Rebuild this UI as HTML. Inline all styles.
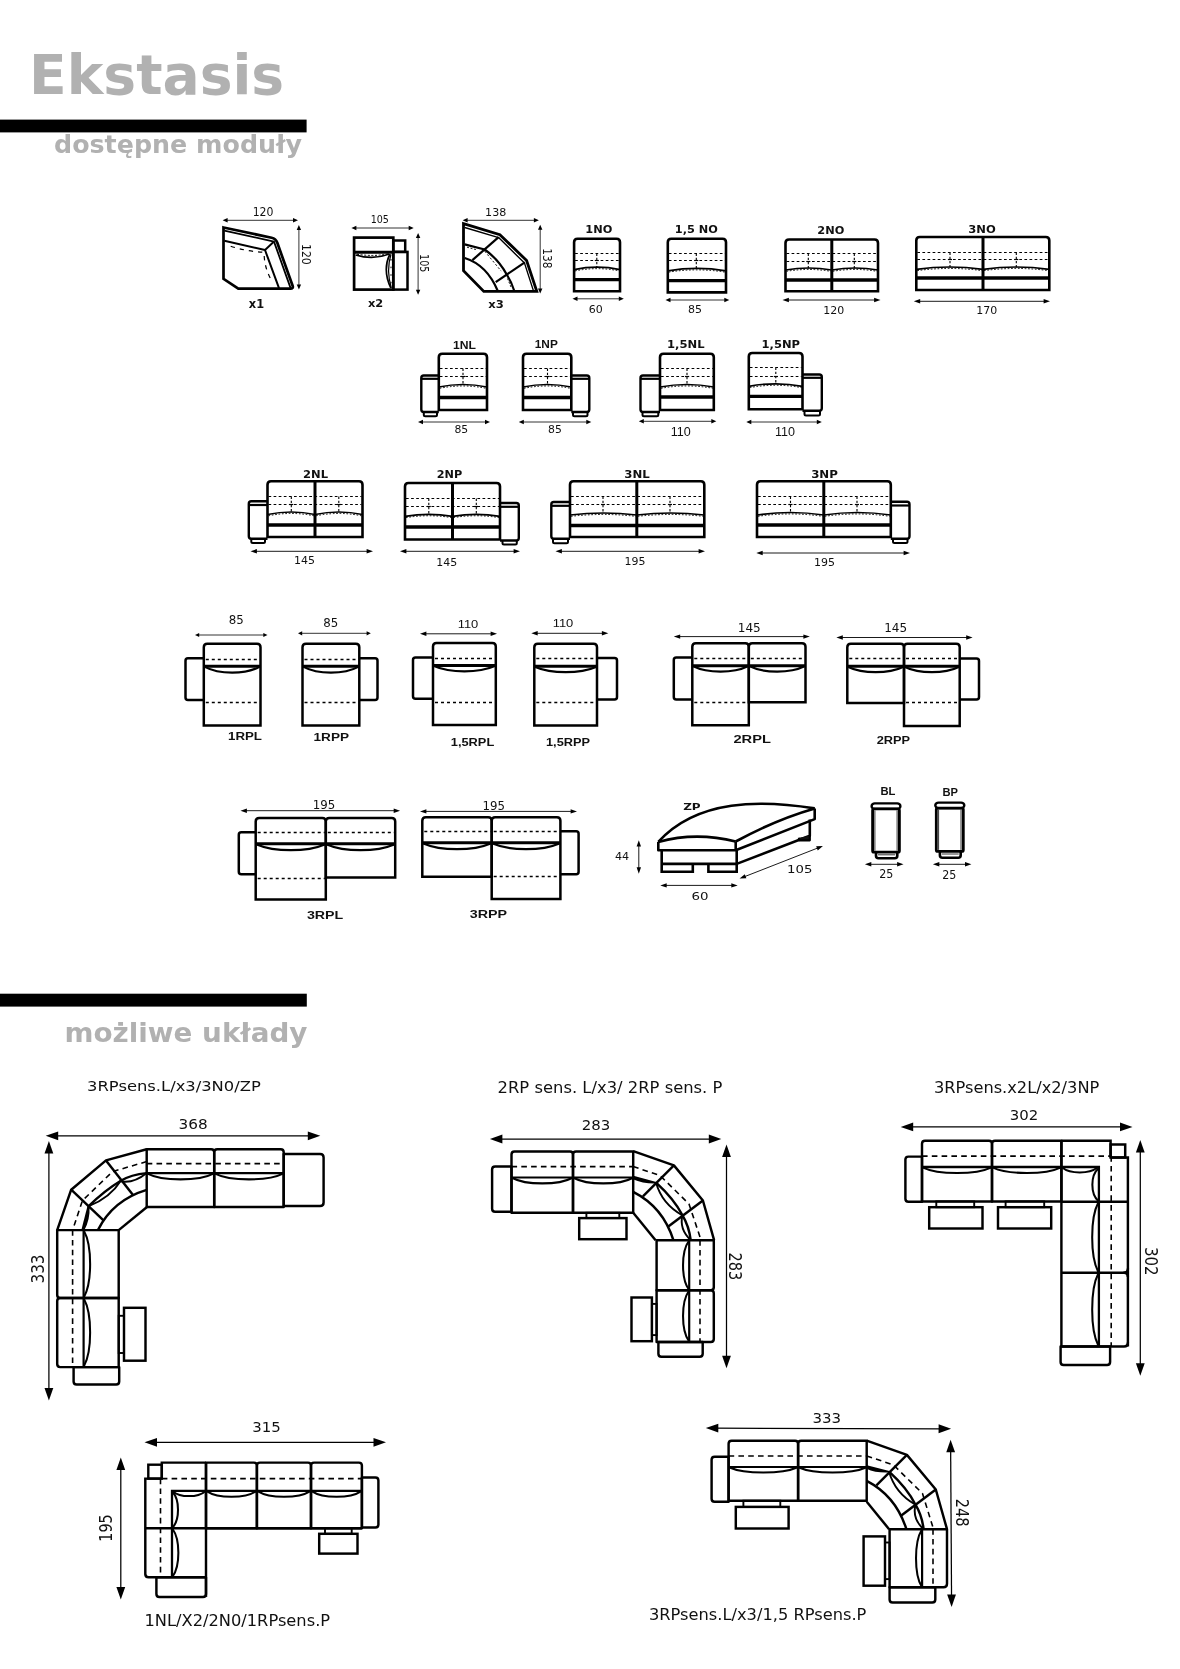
<!DOCTYPE html>
<html lang="pl">
<head>
<meta charset="utf-8">
<title>Ekstasis - dostępne moduły</title>
<style>
html,body{margin:0;padding:0;background:#fff;}
body{width:1180px;height:1669px;overflow:hidden;font-family:'DejaVu Sans','Liberation Sans',sans-serif;}
svg{display:block;will-change:transform;}
</style>
</head>
<body>
<svg width="1180" height="1669" viewBox="0 0 1180 1669">
<rect x="0" y="0" width="1180" height="1669" fill="#ffffff"/>
<text x="29.1" y="93.9" font-family="'DejaVu Sans','Liberation Sans',sans-serif" font-size="55.1" font-weight="bold" text-anchor="start" fill="#b1b1b1" textLength="255" lengthAdjust="spacingAndGlyphs">Ekstasis</text>
<rect x="0" y="119.6" width="306.6" height="12.8" fill="#000"/>
<text x="54" y="152.9" font-family="'DejaVu Sans','Liberation Sans',sans-serif" font-size="24.4" font-weight="bold" text-anchor="start" fill="#b1b1b1" textLength="248" lengthAdjust="spacingAndGlyphs">dostępne moduły</text>
<rect x="0" y="993.7" width="306.8" height="12.9" fill="#000"/>
<text x="64.5" y="1042.3" font-family="'DejaVu Sans','Liberation Sans',sans-serif" font-size="26" font-weight="bold" text-anchor="start" fill="#b1b1b1" textLength="243" lengthAdjust="spacingAndGlyphs">możliwe układy</text>
<path d="M223.5 227.5 L271.6 237.75 Q275.9 238.7 277.3 242.8 L292.6 285.8 Q293.6 288.6 290.4 288.6 L238.3 288.6 L223.5 278.8 Z" fill="none" stroke="#000" stroke-width="2.7" stroke-linejoin="miter"/>
<path d="M224.3 230.6 L274 241.6 L290.6 288.1" fill="none" stroke="#000" stroke-width="1.8" stroke-linejoin="round"/>
<path d="M224.3 240.7 L265 250 L279 288.1" fill="none" stroke="#000" stroke-width="2" stroke-linejoin="round"/>
<line x1="265" y1="250" x2="273.5" y2="242" stroke="#000" stroke-width="1.9"/>
<path d="M230.7 246.2 Q247 251.5 262.5 252.1" fill="none" stroke="#000" stroke-width="1.2" stroke-linejoin="round" stroke-dasharray="4.3 5"/>
<path d="M264.2 256 Q265 270 272.6 282.2" fill="none" stroke="#000" stroke-width="1.2" stroke-linejoin="round" stroke-dasharray="4.3 5"/>
<line x1="225.6" y1="220.3" x2="295" y2="220.3" stroke="#000" stroke-width="0.8"/>
<polygon points="222.6,220.3 227.6,222.5 227.6,218.1" fill="#000"/>
<polygon points="298,220.3 293,222.5 293,218.1" fill="#000"/>
<text x="263.1" y="215.7" font-family="'DejaVu Sans','Liberation Sans',sans-serif" font-size="12.21" text-anchor="middle" fill="#111" textLength="20.8" lengthAdjust="spacingAndGlyphs">120</text>
<line x1="298.9" y1="228" x2="298.9" y2="286.4" stroke="#000" stroke-width="0.8"/>
<polygon points="298.9,225 296.7,230 301.1,230" fill="#000"/>
<polygon points="298.9,289.4 296.7,284.4 301.1,284.4" fill="#000"/>
<text x="302.3" y="254.4" font-family="'DejaVu Sans','Liberation Sans',sans-serif" font-size="12.21" text-anchor="middle" fill="#111" transform="rotate(90 302.3 254.4)" textLength="20.8" lengthAdjust="spacingAndGlyphs">120</text>
<text x="256.5" y="307.6" font-family="'DejaVu Sans','Liberation Sans',sans-serif" font-size="11.8" font-weight="bold" text-anchor="middle" fill="#111" textLength="15.3" lengthAdjust="spacingAndGlyphs">x1</text>
<rect x="354.1" y="237.6" width="39.2" height="52" rx="0" fill="none" stroke="#000" stroke-width="2.7"/>
<rect x="393.3" y="240.5" width="11.9" height="11.4" rx="0" fill="none" stroke="#000" stroke-width="2.5"/>
<rect x="393.3" y="251.9" width="14.2" height="37.7" rx="0" fill="none" stroke="#000" stroke-width="2.5"/>
<line x1="354.1" y1="252.2" x2="394" y2="252.2" stroke="#000" stroke-width="3"/>
<path d="M355.7 255 Q373 260.4 389.2 254" fill="none" stroke="#000" stroke-width="1.7" stroke-linejoin="round"/>
<path d="M357 254.2 Q373 256.8 388 253.9" fill="none" stroke="#000" stroke-width="1" stroke-linejoin="round" stroke-dasharray="2 1.6"/>
<path d="M389.8 254.2 Q382.3 270 390.8 288" fill="none" stroke="#000" stroke-width="1.7" stroke-linejoin="round"/>
<path d="M391 254.2 Q386 270 391.3 288" fill="none" stroke="#000" stroke-width="1.2" stroke-linejoin="round"/>
<line x1="391" y1="259" x2="391" y2="284" stroke="#000" stroke-width="1" stroke-dasharray="1.6 6"/>
<line x1="354.4" y1="228" x2="410.7" y2="228" stroke="#000" stroke-width="0.8"/>
<polygon points="351.4,228 356.4,230.2 356.4,225.8" fill="#000"/>
<polygon points="413.7,228 408.7,230.2 408.7,225.8" fill="#000"/>
<text x="379.8" y="222.7" font-family="'DejaVu Sans','Liberation Sans',sans-serif" font-size="10.01" text-anchor="middle" fill="#111" textLength="18.2" lengthAdjust="spacingAndGlyphs">105</text>
<line x1="418.1" y1="235.9" x2="418.1" y2="291.7" stroke="#000" stroke-width="0.8"/>
<polygon points="418.1,232.9 415.9,237.9 420.3,237.9" fill="#000"/>
<polygon points="418.1,294.7 415.9,289.7 420.3,289.7" fill="#000"/>
<text x="420.1" y="263.2" font-family="'DejaVu Sans','Liberation Sans',sans-serif" font-size="11.66" text-anchor="middle" fill="#111" transform="rotate(90 420.1 263.2)" textLength="18.2" lengthAdjust="spacingAndGlyphs">105</text>
<text x="375.6" y="307" font-family="'DejaVu Sans','Liberation Sans',sans-serif" font-size="10.97" font-weight="bold" text-anchor="middle" fill="#111" textLength="15.3" lengthAdjust="spacingAndGlyphs">x2</text>
<path d="M463.5 223.6 L499.9 234.7 L526.6 260.5 L536.8 291.4 L483.8 291.4 L463.5 270.7 Z" fill="none" stroke="#000" stroke-width="2.8" stroke-linejoin="miter"/>
<path d="M464.7 227.5 L498.6 237.6 L524.5 263.1 L533.4 290.6" fill="none" stroke="#000" stroke-width="1.4" stroke-linejoin="round"/>
<line x1="498.6" y1="237.2" x2="472.4" y2="260.1" stroke="#000" stroke-width="2.2"/>
<line x1="524.8" y1="262.4" x2="495.7" y2="282.1" stroke="#000" stroke-width="2.2"/>
<path d="M464.7 244.4 L484.7 249.5 Q499 260 506.7 274.5 Q511.5 282 514.3 291" fill="none" stroke="#000" stroke-width="2.2" stroke-linejoin="round"/>
<path d="M464.7 258 Q487 265 497.8 291" fill="none" stroke="#000" stroke-width="2.2" stroke-linejoin="round"/>
<line x1="484.7" y1="251.2" x2="501.2" y2="271.1" stroke="#000" stroke-width="0.9" stroke-dasharray="2.2 2"/>
<line x1="467" y1="247.2" x2="476" y2="249.6" stroke="#000" stroke-width="0.9" stroke-dasharray="2 1.6"/>
<line x1="507.5" y1="278.5" x2="511" y2="287" stroke="#000" stroke-width="0.9" stroke-dasharray="2 1.6"/>
<line x1="465.6" y1="220.3" x2="535.9" y2="220.3" stroke="#000" stroke-width="0.8"/>
<polygon points="462.6,220.3 467.6,222.5 467.6,218.1" fill="#000"/>
<polygon points="538.9,220.3 533.9,222.5 533.9,218.1" fill="#000"/>
<text x="495.7" y="216" font-family="'DejaVu Sans','Liberation Sans',sans-serif" font-size="11.11" text-anchor="middle" fill="#111" textLength="21.2" lengthAdjust="spacingAndGlyphs">138</text>
<line x1="540.2" y1="227.7" x2="540.2" y2="290.6" stroke="#000" stroke-width="0.8"/>
<polygon points="540.2,224.7 538,229.7 542.4,229.7" fill="#000"/>
<polygon points="540.2,293.6 538,288.6 542.4,288.6" fill="#000"/>
<text x="543.1" y="258.4" font-family="'DejaVu Sans','Liberation Sans',sans-serif" font-size="12.76" text-anchor="middle" fill="#111" transform="rotate(90 543.1 258.4)" textLength="20.3" lengthAdjust="spacingAndGlyphs">138</text>
<text x="496.1" y="308" font-family="'DejaVu Sans','Liberation Sans',sans-serif" font-size="10.7" font-weight="bold" text-anchor="middle" fill="#111" textLength="15.5" lengthAdjust="spacingAndGlyphs">x3</text>
<path d="M574.1 291.2 L574.1 242.3 Q574.1 238.8 577.6 238.8 L616.5 238.8 Q620 238.8 620 242.3 L620 291.2 Z" fill="none" stroke="#000" stroke-width="2.6" stroke-linejoin="miter"/>
<line x1="575.1" y1="253.5" x2="619" y2="253.5" stroke="#000" stroke-width="1.2" stroke-dasharray="2.7 2.4"/>
<line x1="575.1" y1="260.5" x2="619" y2="260.5" stroke="#000" stroke-width="1.2" stroke-dasharray="2.7 2.4"/>
<path d="M574.1 269.6 Q597.05 264.8 620 269.6" fill="none" stroke="#000" stroke-width="1.7" stroke-linejoin="round"/>
<path d="M575.1 270.9 Q597.05 266.4 619 270.9" fill="none" stroke="#000" stroke-width="1" stroke-linejoin="round" stroke-dasharray="1.6 1.8"/>
<line x1="596.8" y1="253.5" x2="596.8" y2="267.7" stroke="#000" stroke-width="1.1" stroke-dasharray="2.4 1.8"/>
<line x1="594.8" y1="260.5" x2="598.8" y2="260.5" stroke="#000" stroke-width="1.2"/>
<line x1="574.1" y1="279.6" x2="620" y2="279.6" stroke="#000" stroke-width="3.3"/>
<text x="598.8" y="233" font-family="'DejaVu Sans','Liberation Sans',sans-serif" font-size="10.97" font-weight="bold" text-anchor="middle" fill="#111" textLength="27" lengthAdjust="spacingAndGlyphs">1NO</text>
<line x1="575.5" y1="298.8" x2="620.8" y2="298.8" stroke="#000" stroke-width="0.8"/>
<polygon points="572.5,298.8 577.5,301 577.5,296.6" fill="#000"/>
<polygon points="623.8,298.8 618.8,301 618.8,296.6" fill="#000"/>
<text x="595.8" y="313" font-family="'DejaVu Sans','Liberation Sans',sans-serif" font-size="10.97" text-anchor="middle" fill="#111">60</text>
<path d="M667.8 292.4 L667.8 242.3 Q667.8 238.8 671.3 238.8 L722.5 238.8 Q726 238.8 726 242.3 L726 292.4 Z" fill="none" stroke="#000" stroke-width="2.6" stroke-linejoin="miter"/>
<line x1="668.8" y1="253.5" x2="725" y2="253.5" stroke="#000" stroke-width="1.2" stroke-dasharray="2.7 2.4"/>
<line x1="668.8" y1="260.5" x2="725" y2="260.5" stroke="#000" stroke-width="1.2" stroke-dasharray="2.7 2.4"/>
<path d="M667.8 270.8 Q696.9 266 726 270.8" fill="none" stroke="#000" stroke-width="1.7" stroke-linejoin="round"/>
<path d="M668.8 272.1 Q696.9 267.6 725 272.1" fill="none" stroke="#000" stroke-width="1" stroke-linejoin="round" stroke-dasharray="1.6 1.8"/>
<line x1="696.3" y1="253.5" x2="696.3" y2="268.9" stroke="#000" stroke-width="1.1" stroke-dasharray="2.4 1.8"/>
<line x1="694.3" y1="260.5" x2="698.3" y2="260.5" stroke="#000" stroke-width="1.2"/>
<line x1="667.8" y1="280.6" x2="726" y2="280.6" stroke="#000" stroke-width="3.3"/>
<text x="696.3" y="233" font-family="'DejaVu Sans','Liberation Sans',sans-serif" font-size="10.97" font-weight="bold" text-anchor="middle" fill="#111" textLength="43" lengthAdjust="spacingAndGlyphs">1,5 NO</text>
<line x1="668.5" y1="300" x2="726.3" y2="300" stroke="#000" stroke-width="0.8"/>
<polygon points="665.5,300 670.5,302.2 670.5,297.8" fill="#000"/>
<polygon points="729.3,300 724.3,302.2 724.3,297.8" fill="#000"/>
<text x="695" y="312.5" font-family="'DejaVu Sans','Liberation Sans',sans-serif" font-size="10.97" text-anchor="middle" fill="#111">85</text>
<path d="M785.5 291.3 L785.5 243 Q785.5 239.5 789 239.5 L874.5 239.5 Q878 239.5 878 243 L878 291.3 Z" fill="none" stroke="#000" stroke-width="2.6" stroke-linejoin="miter"/>
<line x1="831.8" y1="239.5" x2="831.8" y2="291.3" stroke="#000" stroke-width="3"/>
<line x1="786.5" y1="253.5" x2="877" y2="253.5" stroke="#000" stroke-width="1.2" stroke-dasharray="2.7 2.4"/>
<line x1="786.5" y1="261.5" x2="877" y2="261.5" stroke="#000" stroke-width="1.2" stroke-dasharray="2.7 2.4"/>
<path d="M785.5 270 Q808.65 266 831.8 270" fill="none" stroke="#000" stroke-width="1.7" stroke-linejoin="round"/>
<path d="M786.5 271.3 Q808.65 267.6 830.8 271.3" fill="none" stroke="#000" stroke-width="1" stroke-linejoin="round" stroke-dasharray="1.6 1.8"/>
<path d="M831.8 270 Q854.9 266 878 270" fill="none" stroke="#000" stroke-width="1.7" stroke-linejoin="round"/>
<path d="M832.8 271.3 Q854.9 267.6 877 271.3" fill="none" stroke="#000" stroke-width="1" stroke-linejoin="round" stroke-dasharray="1.6 1.8"/>
<line x1="808.3" y1="253.5" x2="808.3" y2="268.5" stroke="#000" stroke-width="1.1" stroke-dasharray="2.4 1.8"/>
<line x1="806.3" y1="261.5" x2="810.3" y2="261.5" stroke="#000" stroke-width="1.2"/>
<line x1="854.3" y1="253.5" x2="854.3" y2="268.5" stroke="#000" stroke-width="1.1" stroke-dasharray="2.4 1.8"/>
<line x1="852.3" y1="261.5" x2="856.3" y2="261.5" stroke="#000" stroke-width="1.2"/>
<line x1="785.5" y1="280" x2="878" y2="280" stroke="#000" stroke-width="3.3"/>
<text x="830.8" y="234.3" font-family="'DejaVu Sans','Liberation Sans',sans-serif" font-size="10.97" font-weight="bold" text-anchor="middle" fill="#111" textLength="27" lengthAdjust="spacingAndGlyphs">2NO</text>
<line x1="786.34" y1="300" x2="876.66" y2="300" stroke="#000" stroke-width="0.9"/>
<polygon points="782.5,300 788.9,302.2 788.9,297.8" fill="#000"/>
<polygon points="880.5,300 874.1,302.2 874.1,297.8" fill="#000"/>
<text x="833.8" y="313.8" font-family="'DejaVu Sans','Liberation Sans',sans-serif" font-size="10.97" text-anchor="middle" fill="#111">120</text>
<path d="M916.3 290 L916.3 240.5 Q916.3 237 919.8 237 L1045.8 237 Q1049.3 237 1049.3 240.5 L1049.3 290 Z" fill="none" stroke="#000" stroke-width="2.6" stroke-linejoin="miter"/>
<line x1="983" y1="237" x2="983" y2="290" stroke="#000" stroke-width="3"/>
<line x1="917.3" y1="252.5" x2="1048.3" y2="252.5" stroke="#000" stroke-width="1.2" stroke-dasharray="2.7 2.4"/>
<line x1="917.3" y1="259.5" x2="1048.3" y2="259.5" stroke="#000" stroke-width="1.2" stroke-dasharray="2.7 2.4"/>
<path d="M916.3 269.3 Q949.65 264.7 983 269.3" fill="none" stroke="#000" stroke-width="1.7" stroke-linejoin="round"/>
<path d="M917.3 270.6 Q949.65 266.3 982 270.6" fill="none" stroke="#000" stroke-width="1" stroke-linejoin="round" stroke-dasharray="1.6 1.8"/>
<path d="M983 269.3 Q1016.15 264.7 1049.3 269.3" fill="none" stroke="#000" stroke-width="1.7" stroke-linejoin="round"/>
<path d="M984 270.6 Q1016.15 266.3 1048.3 270.6" fill="none" stroke="#000" stroke-width="1" stroke-linejoin="round" stroke-dasharray="1.6 1.8"/>
<line x1="950" y1="252.5" x2="950" y2="267.5" stroke="#000" stroke-width="1.1" stroke-dasharray="2.4 1.8"/>
<line x1="948" y1="259.5" x2="952" y2="259.5" stroke="#000" stroke-width="1.2"/>
<line x1="1016.3" y1="252.5" x2="1016.3" y2="267.5" stroke="#000" stroke-width="1.1" stroke-dasharray="2.4 1.8"/>
<line x1="1014.3" y1="259.5" x2="1018.3" y2="259.5" stroke="#000" stroke-width="1.2"/>
<line x1="916.3" y1="278" x2="1049.3" y2="278" stroke="#000" stroke-width="3.3"/>
<text x="982" y="232.5" font-family="'DejaVu Sans','Liberation Sans',sans-serif" font-size="10.97" font-weight="bold" text-anchor="middle" fill="#111" textLength="27.5" lengthAdjust="spacingAndGlyphs">3NO</text>
<line x1="917.64" y1="301.3" x2="1046.16" y2="301.3" stroke="#000" stroke-width="0.9"/>
<polygon points="913.8,301.3 920.2,303.5 920.2,299.1" fill="#000"/>
<polygon points="1050,301.3 1043.6,303.5 1043.6,299.1" fill="#000"/>
<text x="986.8" y="313.8" font-family="'DejaVu Sans','Liberation Sans',sans-serif" font-size="10.97" text-anchor="middle" fill="#111">170</text>
<path d="M438.8 410 L438.8 357.3 Q438.8 353.8 442.3 353.8 L483.5 353.8 Q487 353.8 487 357.3 L487 410 Z" fill="none" stroke="#000" stroke-width="2.6" stroke-linejoin="miter"/>
<line x1="439.8" y1="368.5" x2="486" y2="368.5" stroke="#000" stroke-width="1.2" stroke-dasharray="2.7 2.4"/>
<line x1="439.8" y1="376.5" x2="486" y2="376.5" stroke="#000" stroke-width="1.2" stroke-dasharray="2.7 2.4"/>
<path d="M438.8 387 Q462.9 382 487 387" fill="none" stroke="#000" stroke-width="1.7" stroke-linejoin="round"/>
<path d="M439.8 388.3 Q462.9 383.6 486 388.3" fill="none" stroke="#000" stroke-width="1" stroke-linejoin="round" stroke-dasharray="1.6 1.8"/>
<line x1="463" y1="368.5" x2="463" y2="385" stroke="#000" stroke-width="1.1" stroke-dasharray="2.4 1.8"/>
<line x1="461" y1="376.5" x2="465" y2="376.5" stroke="#000" stroke-width="1.2"/>
<line x1="438.8" y1="397.5" x2="487" y2="397.5" stroke="#000" stroke-width="3.3"/>
<path d="M438.8 375.5 L423.8 375.5 Q421.3 375.5 421.3 378 L421.3 409.5 Q421.3 412 423.8 412 L438.8 412" fill="none" stroke="#000" stroke-width="2.4" stroke-linejoin="round"/>
<line x1="421.3" y1="378.8" x2="438.8" y2="378.8" stroke="#000" stroke-width="2.2"/>
<path d="M423.8 412 L423.8 414.8 Q423.8 416.3 425.3 416.3 L435.5 416.3 Q437 416.3 437 414.8 L437 412" fill="none" stroke="#000" stroke-width="2" stroke-linejoin="round"/>
<text x="464.5" y="348.8" font-family="'Liberation Sans','DejaVu Sans',sans-serif" font-size="10.75" font-weight="bold" text-anchor="middle" fill="#111" textLength="23" lengthAdjust="spacingAndGlyphs">1NL</text>
<line x1="421" y1="422" x2="487" y2="422" stroke="#000" stroke-width="0.8"/>
<polygon points="418,422 423,424.2 423,419.8" fill="#000"/>
<polygon points="490,422 485,424.2 485,419.8" fill="#000"/>
<text x="461.3" y="432.5" font-family="'DejaVu Sans','Liberation Sans',sans-serif" font-size="11.25" text-anchor="middle" fill="#111" textLength="13.8" lengthAdjust="spacingAndGlyphs">85</text>
<path d="M523 410 L523 357.3 Q523 353.8 526.5 353.8 L567.8 353.8 Q571.3 353.8 571.3 357.3 L571.3 410 Z" fill="none" stroke="#000" stroke-width="2.6" stroke-linejoin="miter"/>
<line x1="524" y1="368.5" x2="570.3" y2="368.5" stroke="#000" stroke-width="1.2" stroke-dasharray="2.7 2.4"/>
<line x1="524" y1="376.5" x2="570.3" y2="376.5" stroke="#000" stroke-width="1.2" stroke-dasharray="2.7 2.4"/>
<path d="M523 387 Q547.15 382 571.3 387" fill="none" stroke="#000" stroke-width="1.7" stroke-linejoin="round"/>
<path d="M524 388.3 Q547.15 383.6 570.3 388.3" fill="none" stroke="#000" stroke-width="1" stroke-linejoin="round" stroke-dasharray="1.6 1.8"/>
<line x1="547.5" y1="368.5" x2="547.5" y2="385" stroke="#000" stroke-width="1.1" stroke-dasharray="2.4 1.8"/>
<line x1="545.5" y1="376.5" x2="549.5" y2="376.5" stroke="#000" stroke-width="1.2"/>
<line x1="523" y1="397.5" x2="571.3" y2="397.5" stroke="#000" stroke-width="3.3"/>
<path d="M571.3 375.5 L586.8 375.5 Q589.3 375.5 589.3 378 L589.3 409.5 Q589.3 412 586.8 412 L571.3 412" fill="none" stroke="#000" stroke-width="2.4" stroke-linejoin="round"/>
<line x1="571.3" y1="378.8" x2="589.3" y2="378.8" stroke="#000" stroke-width="2.2"/>
<path d="M573 412 L573 414.8 Q573 416.3 574.5 416.3 L586 416.3 Q587.5 416.3 587.5 414.8 L587.5 412" fill="none" stroke="#000" stroke-width="2" stroke-linejoin="round"/>
<text x="546.3" y="348" font-family="'Liberation Sans','DejaVu Sans',sans-serif" font-size="10.75" font-weight="bold" text-anchor="middle" fill="#111" textLength="23" lengthAdjust="spacingAndGlyphs">1NP</text>
<line x1="521.8" y1="422" x2="588.3" y2="422" stroke="#000" stroke-width="0.8"/>
<polygon points="518.8,422 523.8,424.2 523.8,419.8" fill="#000"/>
<polygon points="591.3,422 586.3,424.2 586.3,419.8" fill="#000"/>
<text x="555" y="433.3" font-family="'DejaVu Sans','Liberation Sans',sans-serif" font-size="11.25" text-anchor="middle" fill="#111" textLength="13.8" lengthAdjust="spacingAndGlyphs">85</text>
<path d="M660 410 L660 357.3 Q660 353.8 663.5 353.8 L710.3 353.8 Q713.8 353.8 713.8 357.3 L713.8 410 Z" fill="none" stroke="#000" stroke-width="2.6" stroke-linejoin="miter"/>
<line x1="661" y1="368.5" x2="712.8" y2="368.5" stroke="#000" stroke-width="1.2" stroke-dasharray="2.7 2.4"/>
<line x1="661" y1="376.5" x2="712.8" y2="376.5" stroke="#000" stroke-width="1.2" stroke-dasharray="2.7 2.4"/>
<path d="M660 387 Q686.9 382 713.8 387" fill="none" stroke="#000" stroke-width="1.7" stroke-linejoin="round"/>
<path d="M661 388.3 Q686.9 383.6 712.8 388.3" fill="none" stroke="#000" stroke-width="1" stroke-linejoin="round" stroke-dasharray="1.6 1.8"/>
<line x1="687" y1="368.5" x2="687" y2="385" stroke="#000" stroke-width="1.1" stroke-dasharray="2.4 1.8"/>
<line x1="685" y1="376.5" x2="689" y2="376.5" stroke="#000" stroke-width="1.2"/>
<line x1="660" y1="397" x2="713.8" y2="397" stroke="#000" stroke-width="3.3"/>
<path d="M660 375.5 L643 375.5 Q640.5 375.5 640.5 378 L640.5 409.5 Q640.5 412 643 412 L660 412" fill="none" stroke="#000" stroke-width="2.4" stroke-linejoin="round"/>
<line x1="640.5" y1="378.8" x2="660" y2="378.8" stroke="#000" stroke-width="2.2"/>
<path d="M642.5 412 L642.5 414.8 Q642.5 416.3 644 416.3 L656.8 416.3 Q658.3 416.3 658.3 414.8 L658.3 412" fill="none" stroke="#000" stroke-width="2" stroke-linejoin="round"/>
<text x="685.8" y="347.5" font-family="'DejaVu Sans','Liberation Sans',sans-serif" font-size="10.29" font-weight="bold" text-anchor="middle" fill="#111" textLength="37.5" lengthAdjust="spacingAndGlyphs">1,5NL</text>
<line x1="641.8" y1="421.3" x2="713.3" y2="421.3" stroke="#000" stroke-width="0.8"/>
<polygon points="638.8,421.3 643.8,423.5 643.8,419.1" fill="#000"/>
<polygon points="716.3,421.3 711.3,423.5 711.3,419.1" fill="#000"/>
<text x="680.8" y="436.3" font-family="'Liberation Sans','DejaVu Sans',sans-serif" font-size="12.01" text-anchor="middle" fill="#111" textLength="20" lengthAdjust="spacingAndGlyphs">110</text>
<path d="M748.8 409.3 L748.8 356.5 Q748.8 353 752.3 353 L799 353 Q802.5 353 802.5 356.5 L802.5 409.3 Z" fill="none" stroke="#000" stroke-width="2.6" stroke-linejoin="miter"/>
<line x1="749.8" y1="367.5" x2="801.5" y2="367.5" stroke="#000" stroke-width="1.2" stroke-dasharray="2.7 2.4"/>
<line x1="749.8" y1="376.5" x2="801.5" y2="376.5" stroke="#000" stroke-width="1.2" stroke-dasharray="2.7 2.4"/>
<path d="M748.8 386.3 Q775.65 381.3 802.5 386.3" fill="none" stroke="#000" stroke-width="1.7" stroke-linejoin="round"/>
<path d="M749.8 387.6 Q775.65 382.9 801.5 387.6" fill="none" stroke="#000" stroke-width="1" stroke-linejoin="round" stroke-dasharray="1.6 1.8"/>
<line x1="775.8" y1="367.5" x2="775.8" y2="384.3" stroke="#000" stroke-width="1.1" stroke-dasharray="2.4 1.8"/>
<line x1="773.8" y1="376.5" x2="777.8" y2="376.5" stroke="#000" stroke-width="1.2"/>
<line x1="748.8" y1="396.3" x2="802.5" y2="396.3" stroke="#000" stroke-width="3.3"/>
<path d="M802.5 374.5 L819.3 374.5 Q821.8 374.5 821.8 377 L821.8 408.3 Q821.8 410.8 819.3 410.8 L802.5 410.8" fill="none" stroke="#000" stroke-width="2.4" stroke-linejoin="round"/>
<line x1="802.5" y1="377.8" x2="821.8" y2="377.8" stroke="#000" stroke-width="2.2"/>
<path d="M804.5 410.8 L804.5 414 Q804.5 415.5 806 415.5 L818.5 415.5 Q820 415.5 820 414 L820 410.8" fill="none" stroke="#000" stroke-width="2" stroke-linejoin="round"/>
<text x="780.8" y="347.5" font-family="'DejaVu Sans','Liberation Sans',sans-serif" font-size="10.29" font-weight="bold" text-anchor="middle" fill="#111" textLength="38.5" lengthAdjust="spacingAndGlyphs">1,5NP</text>
<line x1="749.3" y1="422" x2="818.8" y2="422" stroke="#000" stroke-width="0.8"/>
<polygon points="746.3,422 751.3,424.2 751.3,419.8" fill="#000"/>
<polygon points="821.8,422 816.8,424.2 816.8,419.8" fill="#000"/>
<text x="785" y="436.3" font-family="'Liberation Sans','DejaVu Sans',sans-serif" font-size="12.01" text-anchor="middle" fill="#111" textLength="20" lengthAdjust="spacingAndGlyphs">110</text>
<path d="M267.5 537 L267.5 484.8 Q267.5 481.3 271 481.3 L359 481.3 Q362.5 481.3 362.5 484.8 L362.5 537 Z" fill="none" stroke="#000" stroke-width="2.6" stroke-linejoin="miter"/>
<line x1="315" y1="481.3" x2="315" y2="537" stroke="#000" stroke-width="3"/>
<line x1="268.5" y1="496.5" x2="361.5" y2="496.5" stroke="#000" stroke-width="1.2" stroke-dasharray="2.7 2.4"/>
<line x1="268.5" y1="504.5" x2="361.5" y2="504.5" stroke="#000" stroke-width="1.2" stroke-dasharray="2.7 2.4"/>
<path d="M267.5 514.5 Q291.25 509.5 315 514.5" fill="none" stroke="#000" stroke-width="1.7" stroke-linejoin="round"/>
<path d="M268.5 515.8 Q291.25 511.1 314 515.8" fill="none" stroke="#000" stroke-width="1" stroke-linejoin="round" stroke-dasharray="1.6 1.8"/>
<path d="M315 514.5 Q338.75 509.5 362.5 514.5" fill="none" stroke="#000" stroke-width="1.7" stroke-linejoin="round"/>
<path d="M316 515.8 Q338.75 511.1 361.5 515.8" fill="none" stroke="#000" stroke-width="1" stroke-linejoin="round" stroke-dasharray="1.6 1.8"/>
<line x1="291.3" y1="496.5" x2="291.3" y2="512.5" stroke="#000" stroke-width="1.1" stroke-dasharray="2.4 1.8"/>
<line x1="289.3" y1="504.5" x2="293.3" y2="504.5" stroke="#000" stroke-width="1.2"/>
<line x1="338.8" y1="496.5" x2="338.8" y2="512.5" stroke="#000" stroke-width="1.1" stroke-dasharray="2.4 1.8"/>
<line x1="336.8" y1="504.5" x2="340.8" y2="504.5" stroke="#000" stroke-width="1.2"/>
<line x1="267.5" y1="525" x2="362.5" y2="525" stroke="#000" stroke-width="3.3"/>
<path d="M267.5 501.3 L251.3 501.3 Q248.8 501.3 248.8 503.8 L248.8 536.3 Q248.8 538.8 251.3 538.8 L267.5 538.8" fill="none" stroke="#000" stroke-width="2.4" stroke-linejoin="round"/>
<line x1="248.8" y1="505" x2="267.5" y2="505" stroke="#000" stroke-width="2.2"/>
<path d="M251.3 538.8 L251.3 541.5 Q251.3 543 252.8 543 L263.5 543 Q265 543 265 541.5 L265 538.8" fill="none" stroke="#000" stroke-width="2" stroke-linejoin="round"/>
<text x="315.5" y="477.5" font-family="'DejaVu Sans','Liberation Sans',sans-serif" font-size="10.29" font-weight="bold" text-anchor="middle" fill="#111" textLength="25" lengthAdjust="spacingAndGlyphs">2NL</text>
<line x1="254.34" y1="551.3" x2="369.16" y2="551.3" stroke="#000" stroke-width="0.9"/>
<polygon points="250.5,551.3 256.9,553.5 256.9,549.1" fill="#000"/>
<polygon points="373,551.3 366.6,553.5 366.6,549.1" fill="#000"/>
<text x="304.5" y="563.8" font-family="'DejaVu Sans','Liberation Sans',sans-serif" font-size="10.97" text-anchor="middle" fill="#111">145</text>
<path d="M405 539.5 L405 486.5 Q405 483 408.5 483 L496.5 483 Q500 483 500 486.5 L500 539.5 Z" fill="none" stroke="#000" stroke-width="2.6" stroke-linejoin="miter"/>
<line x1="452.5" y1="483" x2="452.5" y2="539.5" stroke="#000" stroke-width="3"/>
<line x1="406" y1="498.5" x2="499" y2="498.5" stroke="#000" stroke-width="1.2" stroke-dasharray="2.7 2.4"/>
<line x1="406" y1="506.5" x2="499" y2="506.5" stroke="#000" stroke-width="1.2" stroke-dasharray="2.7 2.4"/>
<path d="M405 516.3 Q428.75 512.3 452.5 516.3" fill="none" stroke="#000" stroke-width="1.7" stroke-linejoin="round"/>
<path d="M406 517.6 Q428.75 513.9 451.5 517.6" fill="none" stroke="#000" stroke-width="1" stroke-linejoin="round" stroke-dasharray="1.6 1.8"/>
<path d="M452.5 516.3 Q476.25 512.3 500 516.3" fill="none" stroke="#000" stroke-width="1.7" stroke-linejoin="round"/>
<path d="M453.5 517.6 Q476.25 513.9 499 517.6" fill="none" stroke="#000" stroke-width="1" stroke-linejoin="round" stroke-dasharray="1.6 1.8"/>
<line x1="428.8" y1="498.5" x2="428.8" y2="514.8" stroke="#000" stroke-width="1.1" stroke-dasharray="2.4 1.8"/>
<line x1="426.8" y1="506.5" x2="430.8" y2="506.5" stroke="#000" stroke-width="1.2"/>
<line x1="476.3" y1="498.5" x2="476.3" y2="514.8" stroke="#000" stroke-width="1.1" stroke-dasharray="2.4 1.8"/>
<line x1="474.3" y1="506.5" x2="478.3" y2="506.5" stroke="#000" stroke-width="1.2"/>
<line x1="405" y1="527" x2="500" y2="527" stroke="#000" stroke-width="3.3"/>
<path d="M500 503 L516.3 503 Q518.8 503 518.8 505.5 L518.8 538 Q518.8 540.5 516.3 540.5 L500 540.5" fill="none" stroke="#000" stroke-width="2.4" stroke-linejoin="round"/>
<line x1="500" y1="506.8" x2="518.8" y2="506.8" stroke="#000" stroke-width="2.2"/>
<path d="M502.5 540.5 L502.5 543 Q502.5 544.5 504 544.5 L515.3 544.5 Q516.8 544.5 516.8 543 L516.8 540.5" fill="none" stroke="#000" stroke-width="2" stroke-linejoin="round"/>
<text x="449.5" y="477.5" font-family="'DejaVu Sans','Liberation Sans',sans-serif" font-size="10.29" font-weight="bold" text-anchor="middle" fill="#111" textLength="25.5" lengthAdjust="spacingAndGlyphs">2NP</text>
<line x1="403.84" y1="551.3" x2="516.16" y2="551.3" stroke="#000" stroke-width="0.9"/>
<polygon points="400,551.3 406.4,553.5 406.4,549.1" fill="#000"/>
<polygon points="520,551.3 513.6,553.5 513.6,549.1" fill="#000"/>
<text x="446.8" y="565.5" font-family="'DejaVu Sans','Liberation Sans',sans-serif" font-size="10.97" text-anchor="middle" fill="#111">145</text>
<path d="M570 537 L570 484.8 Q570 481.3 573.5 481.3 L700.8 481.3 Q704.3 481.3 704.3 484.8 L704.3 537 Z" fill="none" stroke="#000" stroke-width="2.6" stroke-linejoin="miter"/>
<line x1="636.8" y1="481.3" x2="636.8" y2="537" stroke="#000" stroke-width="3"/>
<line x1="571" y1="496.5" x2="703.3" y2="496.5" stroke="#000" stroke-width="1.2" stroke-dasharray="2.7 2.4"/>
<line x1="571" y1="504.5" x2="703.3" y2="504.5" stroke="#000" stroke-width="1.2" stroke-dasharray="2.7 2.4"/>
<path d="M570 515 Q603.4 511 636.8 515" fill="none" stroke="#000" stroke-width="1.7" stroke-linejoin="round"/>
<path d="M571 516.3 Q603.4 512.6 635.8 516.3" fill="none" stroke="#000" stroke-width="1" stroke-linejoin="round" stroke-dasharray="1.6 1.8"/>
<path d="M636.8 515 Q670.55 511 704.3 515" fill="none" stroke="#000" stroke-width="1.7" stroke-linejoin="round"/>
<path d="M637.8 516.3 Q670.55 512.6 703.3 516.3" fill="none" stroke="#000" stroke-width="1" stroke-linejoin="round" stroke-dasharray="1.6 1.8"/>
<line x1="603" y1="496.5" x2="603" y2="513.5" stroke="#000" stroke-width="1.1" stroke-dasharray="2.4 1.8"/>
<line x1="601" y1="504.5" x2="605" y2="504.5" stroke="#000" stroke-width="1.2"/>
<line x1="670" y1="496.5" x2="670" y2="513.5" stroke="#000" stroke-width="1.1" stroke-dasharray="2.4 1.8"/>
<line x1="668" y1="504.5" x2="672" y2="504.5" stroke="#000" stroke-width="1.2"/>
<line x1="570" y1="525.5" x2="704.3" y2="525.5" stroke="#000" stroke-width="3.3"/>
<path d="M570 502 L553.8 502 Q551.3 502 551.3 504.5 L551.3 536.3 Q551.3 538.8 553.8 538.8 L570 538.8" fill="none" stroke="#000" stroke-width="2.4" stroke-linejoin="round"/>
<line x1="551.3" y1="505.8" x2="570" y2="505.8" stroke="#000" stroke-width="2.2"/>
<path d="M553 538.8 L553 541.8 Q553 543.3 554.5 543.3 L566.5 543.3 Q568 543.3 568 541.8 L568 538.8" fill="none" stroke="#000" stroke-width="2" stroke-linejoin="round"/>
<text x="637" y="478.3" font-family="'DejaVu Sans','Liberation Sans',sans-serif" font-size="10.29" font-weight="bold" text-anchor="middle" fill="#111" textLength="25.5" lengthAdjust="spacingAndGlyphs">3NL</text>
<line x1="559.34" y1="551.3" x2="701.16" y2="551.3" stroke="#000" stroke-width="0.9"/>
<polygon points="555.5,551.3 561.9,553.5 561.9,549.1" fill="#000"/>
<polygon points="705,551.3 698.6,553.5 698.6,549.1" fill="#000"/>
<text x="635" y="564.5" font-family="'DejaVu Sans','Liberation Sans',sans-serif" font-size="10.97" text-anchor="middle" fill="#111">195</text>
<path d="M757 537 L757 484.8 Q757 481.3 760.5 481.3 L887.3 481.3 Q890.8 481.3 890.8 484.8 L890.8 537 Z" fill="none" stroke="#000" stroke-width="2.6" stroke-linejoin="miter"/>
<line x1="823.8" y1="481.3" x2="823.8" y2="537" stroke="#000" stroke-width="3"/>
<line x1="758" y1="496.5" x2="889.8" y2="496.5" stroke="#000" stroke-width="1.2" stroke-dasharray="2.7 2.4"/>
<line x1="758" y1="504.5" x2="889.8" y2="504.5" stroke="#000" stroke-width="1.2" stroke-dasharray="2.7 2.4"/>
<path d="M757 515 Q790.4 510 823.8 515" fill="none" stroke="#000" stroke-width="1.7" stroke-linejoin="round"/>
<path d="M758 516.3 Q790.4 511.6 822.8 516.3" fill="none" stroke="#000" stroke-width="1" stroke-linejoin="round" stroke-dasharray="1.6 1.8"/>
<path d="M823.8 515 Q857.3 510 890.8 515" fill="none" stroke="#000" stroke-width="1.7" stroke-linejoin="round"/>
<path d="M824.8 516.3 Q857.3 511.6 889.8 516.3" fill="none" stroke="#000" stroke-width="1" stroke-linejoin="round" stroke-dasharray="1.6 1.8"/>
<line x1="790.5" y1="496.5" x2="790.5" y2="513" stroke="#000" stroke-width="1.1" stroke-dasharray="2.4 1.8"/>
<line x1="788.5" y1="504.5" x2="792.5" y2="504.5" stroke="#000" stroke-width="1.2"/>
<line x1="857" y1="496.5" x2="857" y2="513" stroke="#000" stroke-width="1.1" stroke-dasharray="2.4 1.8"/>
<line x1="855" y1="504.5" x2="859" y2="504.5" stroke="#000" stroke-width="1.2"/>
<line x1="757" y1="525" x2="890.8" y2="525" stroke="#000" stroke-width="3.3"/>
<path d="M890.8 501.8 L907 501.8 Q909.5 501.8 909.5 504.3 L909.5 536.3 Q909.5 538.8 907 538.8 L890.8 538.8" fill="none" stroke="#000" stroke-width="2.4" stroke-linejoin="round"/>
<line x1="890.8" y1="505.5" x2="909.5" y2="505.5" stroke="#000" stroke-width="2.2"/>
<path d="M893 538.8 L893 541.5 Q893 543 894.5 543 L906 543 Q907.5 543 907.5 541.5 L907.5 538.8" fill="none" stroke="#000" stroke-width="2" stroke-linejoin="round"/>
<text x="824.5" y="477.5" font-family="'DejaVu Sans','Liberation Sans',sans-serif" font-size="10.29" font-weight="bold" text-anchor="middle" fill="#111" textLength="26.7" lengthAdjust="spacingAndGlyphs">3NP</text>
<line x1="760.14" y1="553" x2="906.16" y2="553" stroke="#000" stroke-width="0.9"/>
<polygon points="756.3,553 762.7,555.2 762.7,550.8" fill="#000"/>
<polygon points="910,553 903.6,555.2 903.6,550.8" fill="#000"/>
<text x="824.5" y="566.3" font-family="'DejaVu Sans','Liberation Sans',sans-serif" font-size="10.97" text-anchor="middle" fill="#111">195</text>
<path d="M203.8 725.5 L203.8 647.3 Q203.8 643.8 207.3 643.8 L257 643.8 Q260.5 643.8 260.5 647.3 L260.5 725.5 Z" fill="none" stroke="#000" stroke-width="2.5" stroke-linejoin="miter"/>
<line x1="205.8" y1="659.5" x2="259.5" y2="659.5" stroke="#000" stroke-width="1.4" stroke-dasharray="3 3"/>
<line x1="203.8" y1="666.3" x2="260.5" y2="666.3" stroke="#000" stroke-width="3"/>
<path d="M204.8 666.9 C219.11 674.57 245.19 674.57 259.5 666.9" fill="none" stroke="#000" stroke-width="2.2" stroke-linejoin="round"/>
<line x1="205.8" y1="702.5" x2="259.5" y2="702.5" stroke="#000" stroke-width="1.4" stroke-dasharray="3 3"/>
<path d="M203.8 658.3 L188 658.3 Q185.5 658.3 185.5 660.8 L185.5 697.5 Q185.5 700 188 700 L203.8 700" fill="none" stroke="#000" stroke-width="2.5" stroke-linejoin="round"/>
<line x1="197.52" y1="635" x2="264.98" y2="635" stroke="#000" stroke-width="0.8"/>
<polygon points="195,635 199.2,637.1 199.2,632.9" fill="#000"/>
<polygon points="267.5,635 263.3,637.1 263.3,632.9" fill="#000"/>
<text x="236.3" y="623.8" font-family="'DejaVu Sans','Liberation Sans',sans-serif" font-size="11.8" text-anchor="middle" fill="#111">85</text>
<text x="245" y="739.5" font-family="'Liberation Sans','DejaVu Sans',sans-serif" font-size="10.75" font-weight="bold" text-anchor="middle" fill="#111" textLength="34" lengthAdjust="spacingAndGlyphs">1RPL</text>
<path d="M302.5 725.5 L302.5 647.3 Q302.5 643.8 306 643.8 L355.8 643.8 Q359.3 643.8 359.3 647.3 L359.3 725.5 Z" fill="none" stroke="#000" stroke-width="2.5" stroke-linejoin="miter"/>
<line x1="304.5" y1="659.5" x2="358.3" y2="659.5" stroke="#000" stroke-width="1.4" stroke-dasharray="3 3"/>
<line x1="302.5" y1="666.3" x2="359.3" y2="666.3" stroke="#000" stroke-width="3"/>
<path d="M303.5 666.9 C317.84 674.57 343.96 674.57 358.3 666.9" fill="none" stroke="#000" stroke-width="2.2" stroke-linejoin="round"/>
<line x1="304.5" y1="702.5" x2="358.3" y2="702.5" stroke="#000" stroke-width="1.4" stroke-dasharray="3 3"/>
<path d="M359.3 658.3 L375 658.3 Q377.5 658.3 377.5 660.8 L377.5 697.5 Q377.5 700 375 700 L359.3 700" fill="none" stroke="#000" stroke-width="2.5" stroke-linejoin="round"/>
<line x1="300.52" y1="633.3" x2="368.28" y2="633.3" stroke="#000" stroke-width="0.8"/>
<polygon points="298,633.3 302.2,635.4 302.2,631.2" fill="#000"/>
<polygon points="370.8,633.3 366.6,635.4 366.6,631.2" fill="#000"/>
<text x="330.8" y="627" font-family="'DejaVu Sans','Liberation Sans',sans-serif" font-size="11.8" text-anchor="middle" fill="#111">85</text>
<text x="331.3" y="740.5" font-family="'Liberation Sans','DejaVu Sans',sans-serif" font-size="10.75" font-weight="bold" text-anchor="middle" fill="#111" textLength="35.5" lengthAdjust="spacingAndGlyphs">1RPP</text>
<path d="M433 725 L433 646.5 Q433 643 436.5 643 L492.3 643 Q495.8 643 495.8 646.5 L495.8 725 Z" fill="none" stroke="#000" stroke-width="2.5" stroke-linejoin="miter"/>
<line x1="435" y1="658.5" x2="494.8" y2="658.5" stroke="#000" stroke-width="1.4" stroke-dasharray="3 3"/>
<line x1="433" y1="665.5" x2="495.8" y2="665.5" stroke="#000" stroke-width="3"/>
<path d="M434 666.1 C449.96 673.23 478.84 673.23 494.8 666.1" fill="none" stroke="#000" stroke-width="2.2" stroke-linejoin="round"/>
<line x1="435" y1="702.5" x2="494.8" y2="702.5" stroke="#000" stroke-width="1.4" stroke-dasharray="3 3"/>
<path d="M433 657.5 L415.5 657.5 Q413 657.5 413 660 L413 696.3 Q413 698.8 415.5 698.8 L433 698.8" fill="none" stroke="#000" stroke-width="2.5" stroke-linejoin="round"/>
<line x1="423.84" y1="633.8" x2="493.16" y2="633.8" stroke="#000" stroke-width="0.9"/>
<polygon points="420,633.8 426.4,636 426.4,631.6" fill="#000"/>
<polygon points="497,633.8 490.6,636 490.6,631.6" fill="#000"/>
<text x="468" y="627.5" font-family="'Liberation Sans','DejaVu Sans',sans-serif" font-size="11.45" text-anchor="middle" fill="#111" textLength="20.6" lengthAdjust="spacingAndGlyphs">110</text>
<text x="472.5" y="745.8" font-family="'Liberation Sans','DejaVu Sans',sans-serif" font-size="10.75" font-weight="bold" text-anchor="middle" fill="#111" textLength="43.5" lengthAdjust="spacingAndGlyphs">1,5RPL</text>
<path d="M534.3 725.5 L534.3 647.3 Q534.3 643.8 537.8 643.8 L593.5 643.8 Q597 643.8 597 647.3 L597 725.5 Z" fill="none" stroke="#000" stroke-width="2.5" stroke-linejoin="miter"/>
<line x1="536.3" y1="658.5" x2="596" y2="658.5" stroke="#000" stroke-width="1.4" stroke-dasharray="3 3"/>
<line x1="534.3" y1="666.3" x2="597" y2="666.3" stroke="#000" stroke-width="3"/>
<path d="M535.3 666.9 C551.23 673.9 580.07 673.9 596 666.9" fill="none" stroke="#000" stroke-width="2.2" stroke-linejoin="round"/>
<line x1="536.3" y1="702.5" x2="596" y2="702.5" stroke="#000" stroke-width="1.4" stroke-dasharray="3 3"/>
<path d="M597 658 L614.5 658 Q617 658 617 660.5 L617 697 Q617 699.5 614.5 699.5 L597 699.5" fill="none" stroke="#000" stroke-width="2.5" stroke-linejoin="round"/>
<line x1="535.14" y1="633.3" x2="604.46" y2="633.3" stroke="#000" stroke-width="0.9"/>
<polygon points="531.3,633.3 537.7,635.5 537.7,631.1" fill="#000"/>
<polygon points="608.3,633.3 601.9,635.5 601.9,631.1" fill="#000"/>
<text x="563" y="627" font-family="'Liberation Sans','DejaVu Sans',sans-serif" font-size="11.45" text-anchor="middle" fill="#111" textLength="20.6" lengthAdjust="spacingAndGlyphs">110</text>
<text x="568" y="746.3" font-family="'Liberation Sans','DejaVu Sans',sans-serif" font-size="10.75" font-weight="bold" text-anchor="middle" fill="#111" textLength="44" lengthAdjust="spacingAndGlyphs">1,5RPP</text>
<path d="M692.3 725.3 L692.3 646.7 Q692.3 643.2 695.8 643.2 L745.3 643.2 Q748.8 643.2 748.8 646.7 L748.8 725.3 Z" fill="none" stroke="#000" stroke-width="2.5" stroke-linejoin="miter"/>
<line x1="694.3" y1="658.5" x2="747.8" y2="658.5" stroke="#000" stroke-width="1.4" stroke-dasharray="3 3"/>
<line x1="692.3" y1="665.7" x2="748.8" y2="665.7" stroke="#000" stroke-width="3"/>
<path d="M693.3 666.3 C707.55 673.43 733.54 673.43 747.8 666.3" fill="none" stroke="#000" stroke-width="2.2" stroke-linejoin="round"/>
<line x1="694.3" y1="702.5" x2="747.8" y2="702.5" stroke="#000" stroke-width="1.4" stroke-dasharray="3 3"/>
<path d="M748.8 702.3 L748.8 646.7 Q748.8 643.2 752.3 643.2 L802 643.2 Q805.5 643.2 805.5 646.7 L805.5 702.3 Z" fill="none" stroke="#000" stroke-width="2.5" stroke-linejoin="miter"/>
<line x1="750.8" y1="658.5" x2="804.5" y2="658.5" stroke="#000" stroke-width="1.4" stroke-dasharray="3 3"/>
<line x1="748.8" y1="665.7" x2="805.5" y2="665.7" stroke="#000" stroke-width="3"/>
<path d="M749.8 666.3 C764.11 673.43 790.19 673.43 804.5 666.3" fill="none" stroke="#000" stroke-width="2.2" stroke-linejoin="round"/>
<path d="M692.3 657.6 L676.3 657.6 Q673.8 657.6 673.8 660.1 L673.8 696.9 Q673.8 699.4 676.3 699.4 L692.3 699.4" fill="none" stroke="#000" stroke-width="2.5" stroke-linejoin="round"/>
<line x1="677.64" y1="636.6" x2="805.96" y2="636.6" stroke="#000" stroke-width="0.9"/>
<polygon points="673.8,636.6 680.2,638.8 680.2,634.4" fill="#000"/>
<polygon points="809.8,636.6 803.4,638.8 803.4,634.4" fill="#000"/>
<text x="749.3" y="631.7" font-family="'DejaVu Sans','Liberation Sans',sans-serif" font-size="11.93" text-anchor="middle" fill="#111" textLength="23" lengthAdjust="spacingAndGlyphs">145</text>
<text x="752.2" y="742.6" font-family="'Liberation Sans','DejaVu Sans',sans-serif" font-size="10.75" font-weight="bold" text-anchor="middle" fill="#111" textLength="37.5" lengthAdjust="spacingAndGlyphs">2RPL</text>
<path d="M847.3 702.9 L847.3 647.3 Q847.3 643.8 850.8 643.8 L900.5 643.8 Q904 643.8 904 647.3 L904 702.9 Z" fill="none" stroke="#000" stroke-width="2.5" stroke-linejoin="miter"/>
<line x1="849.3" y1="658.5" x2="903" y2="658.5" stroke="#000" stroke-width="1.4" stroke-dasharray="3 3"/>
<line x1="847.3" y1="666.3" x2="904" y2="666.3" stroke="#000" stroke-width="3"/>
<path d="M848.3 666.9 C862.61 673.9 888.69 673.9 903 666.9" fill="none" stroke="#000" stroke-width="2.2" stroke-linejoin="round"/>
<path d="M904 725.9 L904 647.3 Q904 643.8 907.5 643.8 L956.2 643.8 Q959.7 643.8 959.7 647.3 L959.7 725.9 Z" fill="none" stroke="#000" stroke-width="2.5" stroke-linejoin="miter"/>
<line x1="906" y1="658.5" x2="958.7" y2="658.5" stroke="#000" stroke-width="1.4" stroke-dasharray="3 3"/>
<line x1="904" y1="666.3" x2="959.7" y2="666.3" stroke="#000" stroke-width="3"/>
<path d="M905 666.9 C919.04 673.9 944.66 673.9 958.7 666.9" fill="none" stroke="#000" stroke-width="2.2" stroke-linejoin="round"/>
<line x1="906" y1="702.5" x2="958.7" y2="702.5" stroke="#000" stroke-width="1.4" stroke-dasharray="3 3"/>
<path d="M959.7 658.5 L976.5 658.5 Q979 658.5 979 661 L979 696.9 Q979 699.4 976.5 699.4 L959.7 699.4" fill="none" stroke="#000" stroke-width="2.5" stroke-linejoin="round"/>
<line x1="840.24" y1="637.5" x2="968.76" y2="637.5" stroke="#000" stroke-width="0.9"/>
<polygon points="836.4,637.5 842.8,639.7 842.8,635.3" fill="#000"/>
<polygon points="972.6,637.5 966.2,639.7 966.2,635.3" fill="#000"/>
<text x="895.7" y="632.3" font-family="'DejaVu Sans','Liberation Sans',sans-serif" font-size="11.93" text-anchor="middle" fill="#111" textLength="23" lengthAdjust="spacingAndGlyphs">145</text>
<text x="893.4" y="743.5" font-family="'Liberation Sans','DejaVu Sans',sans-serif" font-size="10.75" font-weight="bold" text-anchor="middle" fill="#111" textLength="33.4" lengthAdjust="spacingAndGlyphs">2RPP</text>
<path d="M255.7 899.6 L255.7 821.5 Q255.7 818 259.2 818 L322.3 818 Q325.8 818 325.8 821.5 L325.8 899.6 Z" fill="none" stroke="#000" stroke-width="2.5" stroke-linejoin="miter"/>
<line x1="257.7" y1="832.5" x2="324.8" y2="832.5" stroke="#000" stroke-width="1.4" stroke-dasharray="3 3"/>
<line x1="255.7" y1="843.8" x2="325.8" y2="843.8" stroke="#000" stroke-width="3"/>
<path d="M256.7 844.4 C274.63 852.07 306.87 852.07 324.8 844.4" fill="none" stroke="#000" stroke-width="2.2" stroke-linejoin="round"/>
<line x1="257.7" y1="878.5" x2="324.8" y2="878.5" stroke="#000" stroke-width="1.4" stroke-dasharray="3 3"/>
<path d="M325.8 877.5 L325.8 821.5 Q325.8 818 329.3 818 L391.7 818 Q395.2 818 395.2 821.5 L395.2 877.5 Z" fill="none" stroke="#000" stroke-width="2.5" stroke-linejoin="miter"/>
<line x1="327.8" y1="832.5" x2="394.2" y2="832.5" stroke="#000" stroke-width="1.4" stroke-dasharray="3 3"/>
<line x1="325.8" y1="843.8" x2="395.2" y2="843.8" stroke="#000" stroke-width="3"/>
<path d="M326.8 844.4 C344.54 852.07 376.46 852.07 394.2 844.4" fill="none" stroke="#000" stroke-width="2.2" stroke-linejoin="round"/>
<path d="M255.7 832.2 L241.3 832.2 Q238.8 832.2 238.8 834.7 L238.8 871.7 Q238.8 874.2 241.3 874.2 L255.7 874.2" fill="none" stroke="#000" stroke-width="2.5" stroke-linejoin="round"/>
<line x1="244.34" y1="810.7" x2="396.26" y2="810.7" stroke="#000" stroke-width="0.9"/>
<polygon points="240.5,810.7 246.9,812.9 246.9,808.5" fill="#000"/>
<polygon points="400.1,810.7 393.7,812.9 393.7,808.5" fill="#000"/>
<text x="324.1" y="809.1" font-family="'DejaVu Sans','Liberation Sans',sans-serif" font-size="11.8" text-anchor="middle" fill="#111">195</text>
<text x="325.1" y="918.8" font-family="'Liberation Sans','DejaVu Sans',sans-serif" font-size="10.75" font-weight="bold" text-anchor="middle" fill="#111" textLength="36.4" lengthAdjust="spacingAndGlyphs">3RPL</text>
<path d="M422.3 876.8 L422.3 820.8 Q422.3 817.3 425.8 817.3 L488.2 817.3 Q491.7 817.3 491.7 820.8 L491.7 876.8 Z" fill="none" stroke="#000" stroke-width="2.5" stroke-linejoin="miter"/>
<line x1="424.3" y1="831.5" x2="490.7" y2="831.5" stroke="#000" stroke-width="1.4" stroke-dasharray="3 3"/>
<line x1="422.3" y1="842.8" x2="491.7" y2="842.8" stroke="#000" stroke-width="3"/>
<path d="M423.3 843.4 C441.04 851.07 472.96 851.07 490.7 843.4" fill="none" stroke="#000" stroke-width="2.2" stroke-linejoin="round"/>
<path d="M491.7 899 L491.7 820.8 Q491.7 817.3 495.2 817.3 L556.9 817.3 Q560.4 817.3 560.4 820.8 L560.4 899 Z" fill="none" stroke="#000" stroke-width="2.5" stroke-linejoin="miter"/>
<line x1="493.7" y1="831.5" x2="559.4" y2="831.5" stroke="#000" stroke-width="1.4" stroke-dasharray="3 3"/>
<line x1="491.7" y1="842.8" x2="560.4" y2="842.8" stroke="#000" stroke-width="3"/>
<path d="M492.7 843.4 C510.25 851.07 541.85 851.07 559.4 843.4" fill="none" stroke="#000" stroke-width="2.2" stroke-linejoin="round"/>
<line x1="493.7" y1="876.5" x2="559.4" y2="876.5" stroke="#000" stroke-width="1.4" stroke-dasharray="3 3"/>
<path d="M560.4 831.2 L576.1 831.2 Q578.6 831.2 578.6 833.7 L578.6 871.7 Q578.6 874.2 576.1 874.2 L560.4 874.2" fill="none" stroke="#000" stroke-width="2.5" stroke-linejoin="round"/>
<line x1="423.84" y1="811.4" x2="573.16" y2="811.4" stroke="#000" stroke-width="0.9"/>
<polygon points="420,811.4 426.4,813.6 426.4,809.2" fill="#000"/>
<polygon points="577,811.4 570.6,813.6 570.6,809.2" fill="#000"/>
<text x="493.7" y="809.7" font-family="'DejaVu Sans','Liberation Sans',sans-serif" font-size="11.8" text-anchor="middle" fill="#111">195</text>
<text x="488.4" y="918.2" font-family="'Liberation Sans','DejaVu Sans',sans-serif" font-size="10.75" font-weight="bold" text-anchor="middle" fill="#111" textLength="37.3" lengthAdjust="spacingAndGlyphs">3RPP</text>
<path d="M658.3 841.9 C697.8 798.5 761.6 800.1 814.7 808.4" fill="none" stroke="#000" stroke-width="2.6" stroke-linejoin="round"/>
<path d="M658.3 841.9 Q696 831.5 735.7 841.5" fill="none" stroke="#000" stroke-width="2.6" stroke-linejoin="round"/>
<path d="M735.7 841.5 Q776 819.5 814.7 808.4" fill="none" stroke="#000" stroke-width="2.6" stroke-linejoin="round"/>
<path d="M658.3 841.9 L658.3 850.3 L735.7 850.3 L735.7 841.5" fill="none" stroke="#000" stroke-width="2.6" stroke-linejoin="round"/>
<path d="M735.7 850.3 L814.7 819.1 L814.7 808.4" fill="none" stroke="#000" stroke-width="2.6" stroke-linejoin="round"/>
<path d="M661.7 850.3 L661.7 871.7 L692.8 871.7 L692.8 863.9" fill="none" stroke="#000" stroke-width="2.6" stroke-linejoin="miter"/>
<path d="M708.4 863.9 L708.4 871.7 L736.7 871.7 L736.7 850.3" fill="none" stroke="#000" stroke-width="2.6" stroke-linejoin="miter"/>
<line x1="661.7" y1="863.9" x2="736.7" y2="863.9" stroke="#000" stroke-width="2.6"/>
<path d="M736.7 863.9 L809.8 835.7 L809.8 819.5" fill="none" stroke="#000" stroke-width="2.6" stroke-linejoin="round"/>
<path d="M799 837.8 L799 840.3 L809.8 840.3 L809.8 835.7" fill="#111" stroke="#000" stroke-width="2.2" stroke-linejoin="round"/>
<text x="691.9" y="810.3" font-family="'DejaVu Sans','Liberation Sans',sans-serif" font-size="8.78" font-weight="bold" text-anchor="middle" fill="#111" textLength="17.5" lengthAdjust="spacingAndGlyphs">ZP</text>
<text x="622.1" y="860" font-family="'DejaVu Sans','Liberation Sans',sans-serif" font-size="10.7" text-anchor="middle" fill="#111" textLength="14.2" lengthAdjust="spacingAndGlyphs">44</text>
<line x1="638.8" y1="844.04" x2="638.8" y2="869.86" stroke="#000" stroke-width="0.9"/>
<polygon points="638.8,840.2 636.6,846.6 641,846.6" fill="#000"/>
<polygon points="638.8,873.7 636.6,867.3 641,867.3" fill="#000"/>
<text x="700" y="899.6" font-family="'DejaVu Sans','Liberation Sans',sans-serif" font-size="10.15" text-anchor="middle" fill="#111" textLength="17" lengthAdjust="spacingAndGlyphs">60</text>
<line x1="664.14" y1="885.4" x2="733.86" y2="885.4" stroke="#000" stroke-width="0.9"/>
<polygon points="660.3,885.4 666.7,887.6 666.7,883.2" fill="#000"/>
<polygon points="737.7,885.4 731.3,887.6 731.3,883.2" fill="#000"/>
<text x="799.7" y="873.1" font-family="'DejaVu Sans','Liberation Sans',sans-serif" font-size="9.88" text-anchor="middle" fill="#111" textLength="25.3" lengthAdjust="spacingAndGlyphs">105</text>
<line x1="743.18" y1="877.2" x2="819.32" y2="847.4" stroke="#000" stroke-width="0.9"/>
<polygon points="739.6,878.6 746.36,878.32 744.76,874.22" fill="#000"/>
<polygon points="822.9,846 817.74,850.38 816.14,846.28" fill="#000"/>
<rect x="871.6" y="803.4" width="28.8" height="5.5" rx="3.2" fill="none" stroke="#000" stroke-width="2.4"/>
<rect x="872.6" y="808.9" width="26.8" height="43.3" rx="1.5" fill="none" stroke="#000" stroke-width="2.8"/>
<line x1="874.9" y1="810.4" x2="874.9" y2="850.7" stroke="#000" stroke-width="0.8"/>
<line x1="897.1" y1="810.4" x2="897.1" y2="850.7" stroke="#000" stroke-width="0.8"/>
<path d="M876 852.2 L876 855.8 Q876 858.3 878.5 858.3 L894.8 858.3 Q897.3 858.3 897.3 855.8 L897.3 852.2" fill="none" stroke="#000" stroke-width="2.6" stroke-linejoin="round"/>
<line x1="878" y1="854.8" x2="895.3" y2="854.8" stroke="#000" stroke-width="0.8"/>
<text x="888" y="795.2" font-family="'Liberation Sans','DejaVu Sans',sans-serif" font-size="10.75" font-weight="bold" text-anchor="middle" fill="#111" textLength="15" lengthAdjust="spacingAndGlyphs">BL</text>
<line x1="868.74" y1="864.3" x2="899.66" y2="864.3" stroke="#000" stroke-width="0.9"/>
<polygon points="864.9,864.3 871.3,866.5 871.3,862.1" fill="#000"/>
<polygon points="903.5,864.3 897.1,866.5 897.1,862.1" fill="#000"/>
<text x="886.2" y="877.8" font-family="'DejaVu Sans','Liberation Sans',sans-serif" font-size="11.8" text-anchor="middle" fill="#111" textLength="14.1" lengthAdjust="spacingAndGlyphs">25</text>
<rect x="935.3" y="802.6" width="29" height="5.5" rx="3.2" fill="none" stroke="#000" stroke-width="2.4"/>
<rect x="936.3" y="808.1" width="27" height="43.3" rx="1.5" fill="none" stroke="#000" stroke-width="2.8"/>
<line x1="938.6" y1="809.6" x2="938.6" y2="849.9" stroke="#000" stroke-width="0.8"/>
<line x1="961" y1="809.6" x2="961" y2="849.9" stroke="#000" stroke-width="0.8"/>
<path d="M939.9 851.4 L939.9 855.3 Q939.9 857.8 942.4 857.8 L958.2 857.8 Q960.7 857.8 960.7 855.3 L960.7 851.4" fill="none" stroke="#000" stroke-width="2.6" stroke-linejoin="round"/>
<line x1="941.9" y1="854" x2="958.7" y2="854" stroke="#000" stroke-width="0.8"/>
<text x="950.3" y="796" font-family="'Liberation Sans','DejaVu Sans',sans-serif" font-size="10.75" font-weight="bold" text-anchor="middle" fill="#111" textLength="15.5" lengthAdjust="spacingAndGlyphs">BP</text>
<line x1="936.74" y1="864.3" x2="967.56" y2="864.3" stroke="#000" stroke-width="0.9"/>
<polygon points="932.9,864.3 939.3,866.5 939.3,862.1" fill="#000"/>
<polygon points="971.4,864.3 965,866.5 965,862.1" fill="#000"/>
<text x="949.2" y="878.6" font-family="'DejaVu Sans','Liberation Sans',sans-serif" font-size="11.8" text-anchor="middle" fill="#111" textLength="14.1" lengthAdjust="spacingAndGlyphs">25</text>
<text x="87.1" y="1090.8" font-family="'DejaVu Sans','Liberation Sans',sans-serif" font-size="14.6" text-anchor="start" fill="#111" textLength="173.7" lengthAdjust="spacingAndGlyphs">3RPsens.L/x3/3N0/ZP</text>
<text x="193.1" y="1129" font-family="'DejaVu Sans','Liberation Sans',sans-serif" font-size="14.68" text-anchor="middle" fill="#111" textLength="29.2" lengthAdjust="spacingAndGlyphs">368</text>
<line x1="53.2" y1="1135.8" x2="312.8" y2="1135.8" stroke="#000" stroke-width="1.25"/>
<polygon points="45.7,1135.8 58.2,1140.2 58.2,1131.4" fill="#000"/>
<polygon points="320.3,1135.8 307.8,1140.2 307.8,1131.4" fill="#000"/>
<line x1="48.9" y1="1148.6" x2="48.9" y2="1393" stroke="#000" stroke-width="1.25"/>
<polygon points="48.9,1141.1 44.5,1153.6 53.3,1153.6" fill="#000"/>
<polygon points="48.9,1400.5 44.5,1388 53.3,1388" fill="#000"/>
<text x="43.8" y="1269" font-family="'DejaVu Sans','Liberation Sans',sans-serif" font-size="17.7" text-anchor="middle" fill="#111" transform="rotate(-90 43.8 1269)" textLength="28.8" lengthAdjust="spacingAndGlyphs">333</text>
<path d="M146.7 1149.2 L211.2 1149.2 Q214.2 1149.2 214.2 1152.2 L214.2 1206.9 Q214.2 1206.9 214.2 1206.9 L146.7 1206.9 Q146.7 1206.9 146.7 1206.9 L146.7 1149.2 Q146.7 1149.2 146.7 1149.2 Z" fill="none" stroke="#000" stroke-width="2.45" stroke-linejoin="round"/>
<path d="M217.2 1149.2 L280.7 1149.2 Q283.7 1149.2 283.7 1152.2 L283.7 1206.9 Q283.7 1206.9 283.7 1206.9 L214.2 1206.9 Q214.2 1206.9 214.2 1206.9 L214.2 1152.2 Q214.2 1149.2 217.2 1149.2 Z" fill="none" stroke="#000" stroke-width="2.45" stroke-linejoin="round"/>
<line x1="146.7" y1="1163.6" x2="283.7" y2="1163.6" stroke="#000" stroke-width="1.6" stroke-dasharray="5.6 4.2"/>
<line x1="146.7" y1="1173.1" x2="283.7" y2="1173.1" stroke="#000" stroke-width="2.2"/>
<path d="M147.5 1173.6 C162.02 1181.28 198.98 1181.28 213.5 1173.6" fill="none" stroke="#000" stroke-width="2.05" stroke-linejoin="round"/>
<path d="M215 1173.6 C229.96 1181.28 268.04 1181.28 283 1173.6" fill="none" stroke="#000" stroke-width="2.05" stroke-linejoin="round"/>
<path d="M283.7 1153.9 L320.1 1153.9 Q323.6 1153.9 323.6 1157.4 L323.6 1202.5 Q323.6 1206 320.1 1206 L283.7 1206 Q283.7 1206 283.7 1206 L283.7 1153.9 Q283.7 1153.9 283.7 1153.9 Z" fill="none" stroke="#000" stroke-width="2.45" stroke-linejoin="round"/>
<path d="M146.7 1149.2 L106 1160.4 L71.2 1189.7 L57.2 1230.1" fill="none" stroke="#000" stroke-width="2.45" stroke-linejoin="round"/>
<path d="M146.7 1207.2 L118.7 1230.1" fill="none" stroke="#000" stroke-width="2.45" stroke-linejoin="round"/>
<line x1="106" y1="1160.4" x2="133" y2="1195" stroke="#000" stroke-width="2.45"/>
<line x1="71.2" y1="1189.7" x2="103.5" y2="1220.4" stroke="#000" stroke-width="2.45"/>
<path d="M146.7 1173.1 Q131 1174.5 120.8 1180.8" fill="none" stroke="#000" stroke-width="2.45" stroke-linejoin="round"/>
<path d="M146.7 1173.1 Q134 1183.5 121.5 1181.5" fill="none" stroke="#000" stroke-width="1.9" stroke-linejoin="round"/>
<path d="M120.8 1180.8 Q104 1191 88.7 1206.2" fill="none" stroke="#000" stroke-width="2.45" stroke-linejoin="round"/>
<path d="M120.8 1180.8 Q110 1198 88.7 1206.2" fill="none" stroke="#000" stroke-width="1.9" stroke-linejoin="round"/>
<path d="M88.7 1206.2 L82.6 1230.1" fill="none" stroke="#000" stroke-width="2.45" stroke-linejoin="round"/>
<path d="M88.7 1206.2 Q89.5 1219 83.5 1230.1 Z" fill="#000" stroke="#000" stroke-width="1.6" stroke-linejoin="round"/>
<path d="M146.7 1189.9 Q113 1200 97.9 1230.1" fill="none" stroke="#000" stroke-width="2.45" stroke-linejoin="round"/>
<path d="M146.7 1161.6 L112.5 1171.6 L82.5 1200.5 L72.6 1230" fill="none" stroke="#000" stroke-width="1.6" stroke-linejoin="round" stroke-dasharray="5.6 4.2"/>
<path d="M57.2 1230.1 L118.7 1230.1 Q118.7 1230.1 118.7 1230.1 L118.7 1298 Q118.7 1298 118.7 1298 L60.2 1298 Q57.2 1298 57.2 1295 L57.2 1230.1 Q57.2 1230.1 57.2 1230.1 Z" fill="none" stroke="#000" stroke-width="2.45" stroke-linejoin="round"/>
<path d="M60.2 1298 L118.7 1298 Q118.7 1298 118.7 1298 L118.7 1367.1 Q118.7 1367.1 118.7 1367.1 L60.2 1367.1 Q57.2 1367.1 57.2 1364.1 L57.2 1301 Q57.2 1298 60.2 1298 Z" fill="none" stroke="#000" stroke-width="2.45" stroke-linejoin="round"/>
<line x1="72.6" y1="1230.1" x2="72.6" y2="1367.1" stroke="#000" stroke-width="1.6" stroke-dasharray="5.6 4.2"/>
<line x1="83.6" y1="1230.1" x2="83.6" y2="1367.1" stroke="#000" stroke-width="2.2"/>
<path d="M84 1231 C92.16 1245.52 92.16 1282.48 84 1297" fill="none" stroke="#000" stroke-width="2.05" stroke-linejoin="round"/>
<path d="M84 1299 C92.16 1313.74 92.16 1351.26 84 1366" fill="none" stroke="#000" stroke-width="2.05" stroke-linejoin="round"/>
<rect x="124" y="1307.8" width="21.5" height="52.9" rx="0" fill="none" stroke="#000" stroke-width="2.45"/>
<rect x="118.7" y="1315.8" width="5.3" height="37.2" rx="0" fill="none" stroke="#000" stroke-width="1.9"/>
<path d="M73.6 1367.1 L119.2 1367.1 Q119.2 1367.1 119.2 1367.1 L119.2 1381.4 Q119.2 1384.4 116.2 1384.4 L76.6 1384.4 Q73.6 1384.4 73.6 1381.4 L73.6 1367.1 Q73.6 1367.1 73.6 1367.1 Z" fill="none" stroke="#000" stroke-width="2.45" stroke-linejoin="round"/>
<text x="497.6" y="1092.5" font-family="'DejaVu Sans','Liberation Sans',sans-serif" font-size="15" text-anchor="start" fill="#111" textLength="224.8" lengthAdjust="spacingAndGlyphs">2RP sens. L/x3/ 2RP sens. P</text>
<text x="596.1" y="1129.9" font-family="'DejaVu Sans','Liberation Sans',sans-serif" font-size="14.68" text-anchor="middle" fill="#111" textLength="28.6" lengthAdjust="spacingAndGlyphs">283</text>
<line x1="497.4" y1="1139" x2="713.8" y2="1139" stroke="#000" stroke-width="1.25"/>
<polygon points="489.9,1139 502.4,1143.4 502.4,1134.6" fill="#000"/>
<polygon points="721.3,1139 708.8,1143.4 708.8,1134.6" fill="#000"/>
<line x1="726.5" y1="1152.1" x2="726.5" y2="1360.8" stroke="#000" stroke-width="1.25"/>
<polygon points="726.5,1144.6 722.1,1157.1 730.9,1157.1" fill="#000"/>
<polygon points="726.5,1368.3 722.1,1355.8 730.9,1355.8" fill="#000"/>
<text x="729.2" y="1266.3" font-family="'DejaVu Sans','Liberation Sans',sans-serif" font-size="17.7" text-anchor="middle" fill="#111" transform="rotate(90 729.2 1266.3)" textLength="27.8" lengthAdjust="spacingAndGlyphs">283</text>
<path d="M495.1 1166.5 L511.5 1166.5 Q511.5 1166.5 511.5 1166.5 L511.5 1211.7 Q511.5 1211.7 511.5 1211.7 L495.1 1211.7 Q492.1 1211.7 492.1 1208.7 L492.1 1169.5 Q492.1 1166.5 495.1 1166.5 Z" fill="none" stroke="#000" stroke-width="2.45" stroke-linejoin="round"/>
<path d="M514.5 1151.4 L570 1151.4 Q573 1151.4 573 1154.4 L573 1212.8 Q573 1212.8 573 1212.8 L511.5 1212.8 Q511.5 1212.8 511.5 1212.8 L511.5 1154.4 Q511.5 1151.4 514.5 1151.4 Z" fill="none" stroke="#000" stroke-width="2.45" stroke-linejoin="round"/>
<path d="M576 1151.4 L633.2 1151.4 Q633.2 1151.4 633.2 1151.4 L633.2 1212.8 Q633.2 1212.8 633.2 1212.8 L573 1212.8 Q573 1212.8 573 1212.8 L573 1154.4 Q573 1151.4 576 1151.4 Z" fill="none" stroke="#000" stroke-width="2.45" stroke-linejoin="round"/>
<line x1="511.5" y1="1166.6" x2="633.2" y2="1166.6" stroke="#000" stroke-width="1.6" stroke-dasharray="5.6 4.2"/>
<line x1="511.5" y1="1177.5" x2="633.2" y2="1177.5" stroke="#000" stroke-width="2.2"/>
<path d="M512.5 1178 C525.59 1185.2 558.91 1185.2 572 1178" fill="none" stroke="#000" stroke-width="2.05" stroke-linejoin="round"/>
<path d="M574 1178 C586.87 1185.2 619.63 1185.2 632.5 1178" fill="none" stroke="#000" stroke-width="2.05" stroke-linejoin="round"/>
<rect x="579.2" y="1218.1" width="47.3" height="21.1" rx="0" fill="none" stroke="#000" stroke-width="2.45"/>
<rect x="586.4" y="1212.8" width="32.9" height="5.3" rx="0" fill="none" stroke="#000" stroke-width="1.9"/>
<path d="M633.2 1151.2 L673.9 1165.4 L702.9 1200.5 L714.1 1240.2" fill="none" stroke="#000" stroke-width="2.45" stroke-linejoin="round"/>
<line x1="633.2" y1="1212.7" x2="655.6" y2="1240.2" stroke="#000" stroke-width="2.45"/>
<line x1="673.9" y1="1165.4" x2="642.9" y2="1196.4" stroke="#000" stroke-width="2.45"/>
<line x1="702.9" y1="1200.5" x2="668.3" y2="1226.4" stroke="#000" stroke-width="2.45"/>
<path d="M633.2 1176.6 L656.1 1182.7 Q643 1183 633.2 1178.6 Z" fill="#000" stroke="#000" stroke-width="1.6" stroke-linejoin="round"/>
<path d="M656.1 1182.7 Q674 1199 682.5 1215.3" fill="none" stroke="#000" stroke-width="2.45" stroke-linejoin="round"/>
<path d="M656.1 1182.7 Q662 1204 682.5 1215.3" fill="none" stroke="#000" stroke-width="1.9" stroke-linejoin="round"/>
<path d="M682.5 1215.3 Q689 1226 690.7 1240.2" fill="none" stroke="#000" stroke-width="2.45" stroke-linejoin="round"/>
<path d="M682.5 1215.3 Q679 1229 690.7 1240.2" fill="none" stroke="#000" stroke-width="1.9" stroke-linejoin="round"/>
<path d="M633.2 1191.9 Q663 1207 673.4 1240.2" fill="none" stroke="#000" stroke-width="2.45" stroke-linejoin="round"/>
<path d="M633.2 1166.6 L660 1175.5 L689 1204 L701 1240" fill="none" stroke="#000" stroke-width="1.6" stroke-linejoin="round" stroke-dasharray="5.6 4.2"/>
<path d="M656.6 1240.2 L713.8 1240.2 Q713.8 1240.2 713.8 1240.2 L713.8 1287.3 Q713.8 1290.3 710.8 1290.3 L656.6 1290.3 Q656.6 1290.3 656.6 1290.3 L656.6 1240.2 Q656.6 1240.2 656.6 1240.2 Z" fill="none" stroke="#000" stroke-width="2.45" stroke-linejoin="round"/>
<path d="M656.6 1290.3 L710.8 1290.3 Q713.8 1290.3 713.8 1293.3 L713.8 1338.9 Q713.8 1341.9 710.8 1341.9 L656.6 1341.9 Q656.6 1341.9 656.6 1341.9 L656.6 1290.3 Q656.6 1290.3 656.6 1290.3 Z" fill="none" stroke="#000" stroke-width="2.45" stroke-linejoin="round"/>
<line x1="700" y1="1240.2" x2="700" y2="1341.9" stroke="#000" stroke-width="1.6" stroke-dasharray="5.6 4.2"/>
<line x1="689.2" y1="1240.2" x2="689.2" y2="1341.9" stroke="#000" stroke-width="2.2"/>
<path d="M688.8 1241 C681.12 1251.67 681.12 1278.83 688.8 1289.5" fill="none" stroke="#000" stroke-width="2.05" stroke-linejoin="round"/>
<path d="M688.8 1291 C681.12 1302 681.12 1330 688.8 1341" fill="none" stroke="#000" stroke-width="2.05" stroke-linejoin="round"/>
<path d="M658.4 1341.9 L702.7 1341.9 Q702.7 1341.9 702.7 1341.9 L702.7 1353.8 Q702.7 1356.8 699.7 1356.8 L661.4 1356.8 Q658.4 1356.8 658.4 1353.8 L658.4 1341.9 Q658.4 1341.9 658.4 1341.9 Z" fill="none" stroke="#000" stroke-width="2.45" stroke-linejoin="round"/>
<rect x="631.5" y="1297.5" width="20.4" height="43.7" rx="0" fill="none" stroke="#000" stroke-width="2.45"/>
<rect x="651.9" y="1303.9" width="4.7" height="31.2" rx="0" fill="none" stroke="#000" stroke-width="1.9"/>
<text x="933.9" y="1093.3" font-family="'DejaVu Sans','Liberation Sans',sans-serif" font-size="15" text-anchor="start" fill="#111" textLength="165.4" lengthAdjust="spacingAndGlyphs">3RPsens.x2L/x2/3NP</text>
<text x="1024.1" y="1119.8" font-family="'DejaVu Sans','Liberation Sans',sans-serif" font-size="14.68" text-anchor="middle" fill="#111" textLength="28.5" lengthAdjust="spacingAndGlyphs">302</text>
<line x1="908.2" y1="1126.9" x2="1125" y2="1126.9" stroke="#000" stroke-width="1.25"/>
<polygon points="900.7,1126.9 913.2,1131.3 913.2,1122.5" fill="#000"/>
<polygon points="1132.5,1126.9 1120,1131.3 1120,1122.5" fill="#000"/>
<line x1="1140.3" y1="1147.6" x2="1140.3" y2="1368.2" stroke="#000" stroke-width="1.25"/>
<polygon points="1140.3,1140.1 1135.9,1152.6 1144.7,1152.6" fill="#000"/>
<polygon points="1140.3,1375.7 1135.9,1363.2 1144.7,1363.2" fill="#000"/>
<text x="1145.2" y="1261.3" font-family="'DejaVu Sans','Liberation Sans',sans-serif" font-size="17.7" text-anchor="middle" fill="#111" transform="rotate(90 1145.2 1261.3)" textLength="28.8" lengthAdjust="spacingAndGlyphs">302</text>
<path d="M908.4 1156.6 L922 1156.6 Q922 1156.6 922 1156.6 L922 1201.7 Q922 1201.7 922 1201.7 L908.4 1201.7 Q905.4 1201.7 905.4 1198.7 L905.4 1159.6 Q905.4 1156.6 908.4 1156.6 Z" fill="none" stroke="#000" stroke-width="2.45" stroke-linejoin="round"/>
<path d="M925 1140.7 L989 1140.7 Q992 1140.7 992 1143.7 L992 1201.4 Q992 1201.4 992 1201.4 L922 1201.4 Q922 1201.4 922 1201.4 L922 1143.7 Q922 1140.7 925 1140.7 Z" fill="none" stroke="#000" stroke-width="2.45" stroke-linejoin="round"/>
<path d="M995 1140.7 L1061.4 1140.7 Q1061.4 1140.7 1061.4 1140.7 L1061.4 1201.4 Q1061.4 1201.4 1061.4 1201.4 L992 1201.4 Q992 1201.4 992 1201.4 L992 1143.7 Q992 1140.7 995 1140.7 Z" fill="none" stroke="#000" stroke-width="2.45" stroke-linejoin="round"/>
<path d="M1061.4 1140.7 L1110.6 1140.7 L1110.6 1157.5" fill="none" stroke="#000" stroke-width="2.45" stroke-linejoin="miter"/>
<rect x="1110.6" y="1144.5" width="14.6" height="13" rx="0" fill="none" stroke="#000" stroke-width="2.5"/>
<path d="M1110.6 1157.5 L1127.9 1157.5 L1127.9 1346.4" fill="none" stroke="#000" stroke-width="2.45" stroke-linejoin="miter"/>
<line x1="1061.4" y1="1140.7" x2="1061.4" y2="1346.4" stroke="#000" stroke-width="2.45"/>
<line x1="1061.4" y1="1201.8" x2="1127.9" y2="1201.8" stroke="#000" stroke-width="2.45"/>
<line x1="922" y1="1156.1" x2="1111.2" y2="1156.1" stroke="#000" stroke-width="1.6" stroke-dasharray="5.6 4.2"/>
<line x1="1111.2" y1="1156.1" x2="1111.2" y2="1346.4" stroke="#000" stroke-width="1.6" stroke-dasharray="5.6 4.2"/>
<path d="M922 1167 L1098.9 1167 L1098.9 1346.4" fill="none" stroke="#000" stroke-width="2.3" stroke-linejoin="miter"/>
<path d="M923 1167.6 C937.96 1174.8 976.04 1174.8 991 1167.6" fill="none" stroke="#000" stroke-width="2.05" stroke-linejoin="round"/>
<path d="M993 1167.6 C1007.85 1174.8 1045.65 1174.8 1060.5 1167.6" fill="none" stroke="#000" stroke-width="2.05" stroke-linejoin="round"/>
<path d="M1062.5 1167.8 C1070.09 1174.04 1089.41 1174.04 1097 1167.8" fill="none" stroke="#000" stroke-width="2.05" stroke-linejoin="round"/>
<path d="M1098.3 1168.6 C1090.38 1175.73 1090.38 1193.87 1098.3 1201" fill="none" stroke="#000" stroke-width="2.05" stroke-linejoin="round"/>
<path d="M1098.3 1202.5 C1090.14 1217.79 1090.14 1256.71 1098.3 1272" fill="none" stroke="#000" stroke-width="2.05" stroke-linejoin="round"/>
<path d="M1098.3 1273.5 C1090.14 1289.34 1090.14 1329.66 1098.3 1345.5" fill="none" stroke="#000" stroke-width="2.05" stroke-linejoin="round"/>
<path d="M1061.4 1272.7 L1125 1272.7" fill="none" stroke="#000" stroke-width="2.45" stroke-linejoin="round"/>
<path d="M1127.9 1268.5 Q1127.9 1272.7 1124 1272.7 Q1127.9 1272.7 1127.9 1277" fill="none" stroke="#000" stroke-width="2.45" stroke-linejoin="round"/>
<path d="M1061.4 1346.4 L1124 1346.4 Q1127.9 1346.4 1127.9 1342.4" fill="none" stroke="#000" stroke-width="2.45" stroke-linejoin="round"/>
<path d="M1060.6 1346.4 L1110.1 1346.4 Q1110.1 1346.4 1110.1 1346.4 L1110.1 1362 Q1110.1 1365 1107.1 1365 L1063.6 1365 Q1060.6 1365 1060.6 1362 L1060.6 1346.4 Q1060.6 1346.4 1060.6 1346.4 Z" fill="none" stroke="#000" stroke-width="2.45" stroke-linejoin="round"/>
<rect x="929.2" y="1207.2" width="53.3" height="21.3" rx="0" fill="none" stroke="#000" stroke-width="2.45"/>
<rect x="936.3" y="1201.4" width="37.9" height="5.8" rx="0" fill="none" stroke="#000" stroke-width="1.9"/>
<rect x="998" y="1207.2" width="53.2" height="21.3" rx="0" fill="none" stroke="#000" stroke-width="2.45"/>
<rect x="1005.6" y="1201.4" width="38.6" height="5.8" rx="0" fill="none" stroke="#000" stroke-width="1.9"/>
<text x="266.5" y="1432.4" font-family="'DejaVu Sans','Liberation Sans',sans-serif" font-size="14.68" text-anchor="middle" fill="#111" textLength="28.5" lengthAdjust="spacingAndGlyphs">315</text>
<line x1="152" y1="1442.3" x2="378.5" y2="1442.3" stroke="#000" stroke-width="1.25"/>
<polygon points="144.5,1442.3 157,1446.7 157,1437.9" fill="#000"/>
<polygon points="386,1442.3 373.5,1446.7 373.5,1437.9" fill="#000"/>
<line x1="120.8" y1="1465" x2="120.8" y2="1591.9" stroke="#000" stroke-width="1.25"/>
<polygon points="120.8,1457.5 116.4,1470 125.2,1470" fill="#000"/>
<polygon points="120.8,1599.4 116.4,1586.9 125.2,1586.9" fill="#000"/>
<text x="112.2" y="1528" font-family="'DejaVu Sans','Liberation Sans',sans-serif" font-size="17.2" text-anchor="middle" fill="#111" transform="rotate(-90 112.2 1528)" textLength="27.5" lengthAdjust="spacingAndGlyphs">195</text>
<text x="144.5" y="1625.6" font-family="'DejaVu Sans','Liberation Sans',sans-serif" font-size="15" text-anchor="start" fill="#111" textLength="185.6" lengthAdjust="spacingAndGlyphs">1NL/X2/2N0/1RPsens.P</text>
<rect x="148.3" y="1464.7" width="13.5" height="13.9" rx="0" fill="none" stroke="#000" stroke-width="2.4"/>
<path d="M161.8 1478.6 L161.8 1462.6 L206 1462.6" fill="none" stroke="#000" stroke-width="2.45" stroke-linejoin="miter"/>
<path d="M161.8 1478.6 L145.3 1478.6 L145.3 1574.3" fill="none" stroke="#000" stroke-width="2.45" stroke-linejoin="miter"/>
<path d="M145.3 1574 Q145.3 1577.3 148.6 1577.3 L206 1577.3" fill="none" stroke="#000" stroke-width="2.45" stroke-linejoin="round"/>
<line x1="145.3" y1="1528.2" x2="361.9" y2="1528.2" stroke="#000" stroke-width="2.45"/>
<line x1="206" y1="1462.6" x2="206" y2="1596.9" stroke="#000" stroke-width="2.45"/>
<path d="M206 1462.6 L253.9 1462.6 Q256.9 1462.6 256.9 1465.6 L256.9 1528.2 Q256.9 1528.2 256.9 1528.2 L206 1528.2 Q206 1528.2 206 1528.2 L206 1462.6 Q206 1462.6 206 1462.6 Z" fill="none" stroke="#000" stroke-width="2.45" stroke-linejoin="round"/>
<path d="M259.9 1462.6 L308 1462.6 Q311 1462.6 311 1465.6 L311 1528.2 Q311 1528.2 311 1528.2 L256.9 1528.2 Q256.9 1528.2 256.9 1528.2 L256.9 1465.6 Q256.9 1462.6 259.9 1462.6 Z" fill="none" stroke="#000" stroke-width="2.45" stroke-linejoin="round"/>
<path d="M314 1462.6 L358.9 1462.6 Q361.9 1462.6 361.9 1465.6 L361.9 1528.2 Q361.9 1528.2 361.9 1528.2 L311 1528.2 Q311 1528.2 311 1528.2 L311 1465.6 Q311 1462.6 314 1462.6 Z" fill="none" stroke="#000" stroke-width="2.45" stroke-linejoin="round"/>
<path d="M361.9 1477.4 L375.4 1477.4 Q378.4 1477.4 378.4 1480.4 L378.4 1524.5 Q378.4 1527.5 375.4 1527.5 L361.9 1527.5 Q361.9 1527.5 361.9 1527.5 L361.9 1477.4 Q361.9 1477.4 361.9 1477.4 Z" fill="none" stroke="#000" stroke-width="2.45" stroke-linejoin="round"/>
<line x1="161.8" y1="1478.6" x2="361.9" y2="1478.6" stroke="#000" stroke-width="1.6" stroke-dasharray="5.6 4.2"/>
<line x1="160.5" y1="1478.6" x2="160.5" y2="1577.3" stroke="#000" stroke-width="1.6" stroke-dasharray="5.6 4.2"/>
<path d="M361.9 1490.8 L172 1490.8 L172 1577.3" fill="none" stroke="#000" stroke-width="2.3" stroke-linejoin="miter"/>
<path d="M173 1491.4 C180.04 1497.64 197.96 1497.64 205 1491.4" fill="none" stroke="#000" stroke-width="2.05" stroke-linejoin="round"/>
<path d="M207 1491.4 C217.78 1498.6 245.22 1498.6 256 1491.4" fill="none" stroke="#000" stroke-width="2.05" stroke-linejoin="round"/>
<path d="M258 1491.4 C269.44 1498.6 298.56 1498.6 310 1491.4" fill="none" stroke="#000" stroke-width="2.05" stroke-linejoin="round"/>
<path d="M312 1491.4 C322.78 1498.6 350.22 1498.6 361 1491.4" fill="none" stroke="#000" stroke-width="2.05" stroke-linejoin="round"/>
<path d="M172.6 1492 C179.8 1499.81 179.8 1519.69 172.6 1527.5" fill="none" stroke="#000" stroke-width="2.05" stroke-linejoin="round"/>
<path d="M172.6 1529 C180.28 1539.45 180.28 1566.05 172.6 1576.5" fill="none" stroke="#000" stroke-width="2.05" stroke-linejoin="round"/>
<path d="M156.4 1577.3 L206 1577.3 Q206 1577.3 206 1577.3 L206 1593.9 Q206 1596.9 203 1596.9 L159.4 1596.9 Q156.4 1596.9 156.4 1593.9 L156.4 1577.3 Q156.4 1577.3 156.4 1577.3 Z" fill="none" stroke="#000" stroke-width="2.45" stroke-linejoin="round"/>
<rect x="319.2" y="1533.8" width="38.3" height="19.8" rx="0" fill="none" stroke="#000" stroke-width="2.45"/>
<rect x="325" y="1528.2" width="26.7" height="5.6" rx="0" fill="none" stroke="#000" stroke-width="1.9"/>
<text x="826.8" y="1423" font-family="'DejaVu Sans','Liberation Sans',sans-serif" font-size="14.68" text-anchor="middle" fill="#111" textLength="28.7" lengthAdjust="spacingAndGlyphs">333</text>
<line x1="713.3" y1="1428.12" x2="943.6" y2="1428.78" stroke="#000" stroke-width="1.25"/>
<polygon points="705.8,1428.1 718.29,1432.54 718.31,1423.74" fill="#000"/>
<polygon points="951.1,1428.8 938.59,1433.16 938.61,1424.36" fill="#000"/>
<line x1="950.64" y1="1447.2" x2="951.56" y2="1599.5" stroke="#000" stroke-width="1.25"/>
<polygon points="950.6,1439.7 946.27,1452.23 955.07,1452.17" fill="#000"/>
<polygon points="951.6,1607 947.13,1594.53 955.93,1594.47" fill="#000"/>
<text x="955.7" y="1512.7" font-family="'DejaVu Sans','Liberation Sans',sans-serif" font-size="17.4" text-anchor="middle" fill="#111" transform="rotate(90 955.7 1512.7)" textLength="28" lengthAdjust="spacingAndGlyphs">248</text>
<text x="648.9" y="1619.5" font-family="'DejaVu Sans','Liberation Sans',sans-serif" font-size="15" text-anchor="start" fill="#111" textLength="217.5" lengthAdjust="spacingAndGlyphs">3RPsens.L/x3/1,5 RPsens.P</text>
<path d="M714.6 1456.8 L728.6 1456.8 Q728.6 1456.8 728.6 1456.8 L728.6 1501.8 Q728.6 1501.8 728.6 1501.8 L714.6 1501.8 Q711.6 1501.8 711.6 1498.8 L711.6 1459.8 Q711.6 1456.8 714.6 1456.8 Z" fill="none" stroke="#000" stroke-width="2.45" stroke-linejoin="round"/>
<path d="M731.6 1440.7 L795.1 1440.7 Q798.1 1440.7 798.1 1443.7 L798.1 1500.7 Q798.1 1500.7 798.1 1500.7 L728.6 1500.7 Q728.6 1500.7 728.6 1500.7 L728.6 1443.7 Q728.6 1440.7 731.6 1440.7 Z" fill="none" stroke="#000" stroke-width="2.45" stroke-linejoin="round"/>
<path d="M801.1 1440.7 L866.7 1440.7 Q866.7 1440.7 866.7 1440.7 L866.7 1500.7 Q866.7 1500.7 866.7 1500.7 L798.1 1500.7 Q798.1 1500.7 798.1 1500.7 L798.1 1443.7 Q798.1 1440.7 801.1 1440.7 Z" fill="none" stroke="#000" stroke-width="2.45" stroke-linejoin="round"/>
<line x1="728.6" y1="1456" x2="866.7" y2="1456" stroke="#000" stroke-width="1.6" stroke-dasharray="5.6 4.2"/>
<line x1="728.6" y1="1467" x2="866.7" y2="1467" stroke="#000" stroke-width="2.2"/>
<path d="M729.6 1467.5 C744.43 1474.22 782.17 1474.22 797 1467.5" fill="none" stroke="#000" stroke-width="2.05" stroke-linejoin="round"/>
<path d="M799 1467.5 C813.74 1474.22 851.26 1474.22 866 1467.5" fill="none" stroke="#000" stroke-width="2.05" stroke-linejoin="round"/>
<rect x="735.8" y="1506.9" width="52.8" height="21.6" rx="0" fill="none" stroke="#000" stroke-width="2.45"/>
<rect x="743.4" y="1500.7" width="36.9" height="6.2" rx="0" fill="none" stroke="#000" stroke-width="1.9"/>
<path d="M866.7 1440.7 L906.9 1454.9 L935.8 1489.5 L947 1529.2" fill="none" stroke="#000" stroke-width="2.45" stroke-linejoin="round"/>
<line x1="866.7" y1="1501.7" x2="889.1" y2="1529.2" stroke="#000" stroke-width="2.45"/>
<line x1="906.9" y1="1454.9" x2="876.4" y2="1485.4" stroke="#000" stroke-width="2.45"/>
<line x1="935.8" y1="1489.5" x2="901.3" y2="1515.4" stroke="#000" stroke-width="2.45"/>
<path d="M866.7 1466.1 L889.1 1471.7 Q876 1472.3 866.7 1468 Z" fill="#000" stroke="#000" stroke-width="1.6" stroke-linejoin="round"/>
<path d="M889.1 1471.7 Q907 1488 915.5 1504.7" fill="none" stroke="#000" stroke-width="2.45" stroke-linejoin="round"/>
<path d="M889.1 1471.7 Q895 1493 915.5 1504.7" fill="none" stroke="#000" stroke-width="1.9" stroke-linejoin="round"/>
<path d="M915.5 1504.7 Q922 1515.5 923.6 1529.2" fill="none" stroke="#000" stroke-width="2.45" stroke-linejoin="round"/>
<path d="M915.5 1504.7 Q912 1518.5 923.6 1529.2" fill="none" stroke="#000" stroke-width="1.9" stroke-linejoin="round"/>
<path d="M866.7 1480.8 Q896 1496 906.4 1529.2" fill="none" stroke="#000" stroke-width="2.45" stroke-linejoin="round"/>
<path d="M866.7 1455.9 L893.5 1465 L922.5 1493.5 L933.5 1529.2" fill="none" stroke="#000" stroke-width="1.6" stroke-linejoin="round" stroke-dasharray="5.6 4.2"/>
<path d="M889.6 1529.2 L947 1529.2 Q947 1529.2 947 1529.2 L947 1583.7 Q947 1587.2 943.5 1587.2 L889.6 1587.2 Q889.6 1587.2 889.6 1587.2 L889.6 1529.2 Q889.6 1529.2 889.6 1529.2 Z" fill="none" stroke="#000" stroke-width="2.45" stroke-linejoin="round"/>
<line x1="933" y1="1529.2" x2="933" y2="1587.2" stroke="#000" stroke-width="1.6" stroke-dasharray="5.6 4.2"/>
<line x1="922.1" y1="1529.2" x2="922.1" y2="1587.2" stroke="#000" stroke-width="2.2"/>
<path d="M921.6 1530 C914.16 1542.43 914.16 1574.07 921.6 1586.5" fill="none" stroke="#000" stroke-width="2.05" stroke-linejoin="round"/>
<path d="M889.6 1587.2 L935.3 1587.2 Q935.3 1587.2 935.3 1587.2 L935.3 1599.5 Q935.3 1602.5 932.3 1602.5 L892.6 1602.5 Q889.6 1602.5 889.6 1599.5 L889.6 1587.2 Q889.6 1587.2 889.6 1587.2 Z" fill="none" stroke="#000" stroke-width="2.45" stroke-linejoin="round"/>
<rect x="863.6" y="1536.4" width="21.4" height="49.3" rx="0" fill="none" stroke="#000" stroke-width="2.45"/>
<rect x="885" y="1542.5" width="4.6" height="36.6" rx="0" fill="none" stroke="#000" stroke-width="1.9"/>
</svg>
</body>
</html>
